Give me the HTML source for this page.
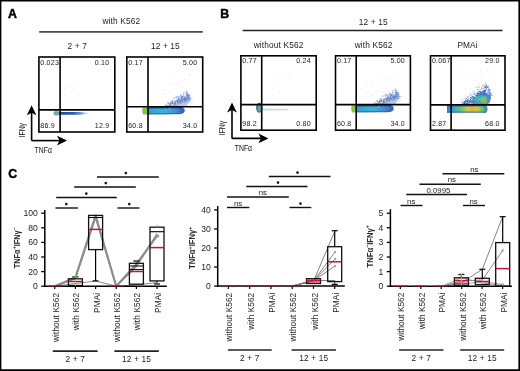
<!DOCTYPE html>
<html><head><meta charset="utf-8"><style>
html,body{margin:0;padding:0;background:#fff;}
svg{display:block;will-change:transform;font-family:"Liberation Sans", sans-serif;}
svg text{font-family:"Liberation Sans", sans-serif;}
</style></head><body>
<svg width="520" height="371" viewBox="0 0 520 371" >
<rect width="520" height="371" fill="#fff"/>
<path d="M0 0H520V371H0Z M1.4 1.4V369.3H518.4V1.4Z" fill="#000" fill-rule="evenodd"/>
<text x="8.1" y="18.0" font-size="12.3" text-anchor="start" font-weight="bold" fill="#000" stroke="#000" stroke-width="0.45">A</text>
<text x="220.3" y="18.1" font-size="12.3" text-anchor="start" font-weight="bold" fill="#000" stroke="#000" stroke-width="0.45">B</text>
<text x="8.2" y="177.5" font-size="12.3" text-anchor="start" font-weight="bold" fill="#000" stroke="#000" stroke-width="0.45">C</text>
<text x="121.3" y="23.6" font-size="8.3" text-anchor="middle" font-weight="normal" fill="#222" letter-spacing="0.15">with K562</text>
<line x1="39.2" y1="31.8" x2="202.8" y2="31.8" stroke="#4a4a4a" stroke-width="1.8" />
<text x="77.2" y="48.6" font-size="8.3" text-anchor="middle" font-weight="normal" fill="#222" letter-spacing="0.15">2 + 7</text>
<text x="165.4" y="48.6" font-size="8.3" text-anchor="middle" font-weight="normal" fill="#222" letter-spacing="0.15">12 + 15</text>
<text x="373.3" y="25.3" font-size="8.3" text-anchor="middle" font-weight="normal" fill="#222" letter-spacing="0.15">12 + 15</text>
<line x1="242.7" y1="30.6" x2="502.5" y2="30.6" stroke="#222" stroke-width="1.5" />
<text x="278.6" y="48.0" font-size="8.3" text-anchor="middle" font-weight="normal" fill="#222" letter-spacing="0.15">without K562</text>
<text x="373.6" y="48.0" font-size="8.3" text-anchor="middle" font-weight="normal" fill="#222" letter-spacing="0.15">with K562</text>
<text x="467.6" y="48.0" font-size="8.3" text-anchor="middle" font-weight="normal" fill="#222" letter-spacing="0.15">PMAi</text>
<defs>
<filter id="b1" x="-50%" y="-50%" width="200%" height="200%"><feGaussianBlur stdDeviation="0.45"/></filter>
<linearGradient id="gA1" x1="0" y1="0" x2="1" y2="0">
 <stop offset="0" stop-color="#1f4aa0"/><stop offset="0.45" stop-color="#2f5cb4"/><stop offset="0.7" stop-color="#6f8ed0" stop-opacity="0.85"/><stop offset="1" stop-color="#c0cce8" stop-opacity="0"/>
</linearGradient>
<linearGradient id="gCy" x1="0" y1="0" x2="1" y2="0">
 <stop offset="0" stop-color="#2aa6c8"/><stop offset="0.5" stop-color="#3ab4dc"/><stop offset="0.85" stop-color="#3c8fd0"/><stop offset="1" stop-color="#4a6cc0" stop-opacity="0.7"/>
</linearGradient>
<linearGradient id="gB3" x1="0" y1="0" x2="1" y2="0">
 <stop offset="0" stop-color="#3a78c8"/><stop offset="0.15" stop-color="#38a8d4"/><stop offset="0.35" stop-color="#6cc070"/><stop offset="0.5" stop-color="#c8cc48"/><stop offset="0.62" stop-color="#e8b040"/><stop offset="0.75" stop-color="#c8c848"/><stop offset="0.88" stop-color="#6cc060"/><stop offset="1" stop-color="#3a78c8"/>
</linearGradient>
<radialGradient id="gUp" cx="0.62" cy="0.62" r="0.55">
 <stop offset="0" stop-color="#70c460"/><stop offset="0.3" stop-color="#3eb0c4"/><stop offset="0.65" stop-color="#3c6cc4" stop-opacity="0.85"/><stop offset="1" stop-color="#6f8fd6" stop-opacity="0"/>
</radialGradient>
</defs>
<rect x="68.5" y="86.0" width="0.9" height="0.9" fill="#dfe1e8"/>
<rect x="74.1" y="81.8" width="0.9" height="0.9" fill="#dfe1e8"/>
<rect x="72.1" y="88.0" width="0.9" height="0.9" fill="#dfe1e8"/>
<rect x="64.0" y="94.6" width="0.9" height="0.9" fill="#dfe1e8"/>
<rect x="63.6" y="93.5" width="0.9" height="0.9" fill="#dfe1e8"/>
<rect x="64.2" y="87.0" width="0.9" height="0.9" fill="#dfe1e8"/>
<rect x="70.2" y="97.3" width="0.9" height="0.9" fill="#dfe1e8"/>
<rect x="65.1" y="89.0" width="0.9" height="0.9" fill="#dfe1e8"/>
<rect x="73.7" y="97.7" width="0.9" height="0.9" fill="#dfe1e8"/>
<g filter="url(#b1)">
<path d="M59 112.0 L80 112.0 L92 113.2 L80 114.7 L59 114.8 Z" fill="url(#gA1)"/>
<ellipse cx="56.4" cy="113.3" rx="2.9" ry="2.3" fill="#74aa9c"/>
</g>
<rect x="173.9" y="83.7" width="0.9" height="0.9" fill="#dcdee6"/>
<rect x="189.1" y="73.6" width="0.9" height="0.9" fill="#dcdee6"/>
<rect x="184.6" y="79.1" width="0.9" height="0.9" fill="#dcdee6"/>
<rect x="157.5" y="82.7" width="0.9" height="0.9" fill="#dcdee6"/>
<rect x="163.7" y="93.8" width="0.9" height="0.9" fill="#dcdee6"/>
<rect x="158.9" y="90.8" width="0.9" height="0.9" fill="#dcdee6"/>
<rect x="176.3" y="82.6" width="0.9" height="0.9" fill="#dcdee6"/>
<rect x="172.8" y="77.9" width="0.9" height="0.9" fill="#dcdee6"/>
<rect x="154.3" y="85.1" width="0.9" height="0.9" fill="#dcdee6"/>
<rect x="177.9" y="83.2" width="0.9" height="0.9" fill="#dcdee6"/>
<rect x="163.9" y="89.6" width="0.9" height="0.9" fill="#dcdee6"/>
<rect x="169.2" y="83.1" width="0.9" height="0.9" fill="#dcdee6"/>
<rect x="182.2" y="87.0" width="0.9" height="0.9" fill="#dcdee6"/>
<rect x="161.3" y="90.0" width="0.9" height="0.9" fill="#dcdee6"/>
<rect x="172.0" y="92.8" width="0.9" height="0.9" fill="#dcdee6"/>
<rect x="179.7" y="80.3" width="0.9" height="0.9" fill="#dcdee6"/>
<rect x="189.2" y="74.8" width="0.9" height="0.9" fill="#dcdee6"/>
<rect x="167.9" y="91.7" width="0.9" height="0.9" fill="#dcdee6"/>
<g transform="translate(0,0)">
<g filter="url(#b1)">
<path d="M148 107.3 L182 107.2 C184.5 107.6 185.2 110 184.5 112 C183 114 180 114.3 176 114.3 L148 114.4 Z" fill="#3468bc"/>
<path d="M148 108.6 L179 108.5 C181.5 109 181.5 111.5 180 113 L148 113.2 Z" fill="url(#gCy)"/>
<path d="M148 107.2 L182 107.1 L182 108.1 L148 108.3 Z" fill="#1d3580" opacity="0.8"/>
<path d="M142.6 107.5 L148 107.3 L148 114.5 L143 114.6 C142 112 142 109 142.6 107.5 Z" fill="#86c44a"/>
</g>
</g>
<g transform="translate(0,0)" opacity="0.75">
<path d="M166 107 C174 105.5 180 102 184 97.5 C186.5 94.5 189.5 93 190.5 95.5 C191 100 188 105 184 107.5 Z" fill="#5a7ecb" opacity="0.55" filter="url(#b1)"/>
<rect x="175.3" y="95.6" width="0.9" height="0.9" fill="#b0c0e6"/>
<rect x="177.0" y="97.2" width="0.9" height="0.9" fill="#7d98d6"/>
<rect x="170.8" y="100.9" width="0.9" height="0.9" fill="#7d98d6"/>
<rect x="186.4" y="99.3" width="0.9" height="0.9" fill="#3560bc"/>
<rect x="168.6" y="105.3" width="0.9" height="0.9" fill="#3560bc"/>
<rect x="169.2" y="108.6" width="0.9" height="0.9" fill="#b0c0e6"/>
<rect x="181.5" y="97.4" width="0.9" height="0.9" fill="#2d4fae"/>
<rect x="166.6" y="105.2" width="0.9" height="0.9" fill="#2d4fae"/>
<rect x="172.3" y="103.2" width="0.9" height="0.9" fill="#2d4fae"/>
<rect x="177.1" y="96.2" width="0.9" height="0.9" fill="#b0c0e6"/>
<rect x="178.1" y="98.0" width="0.9" height="0.9" fill="#3560bc"/>
<rect x="181.8" y="96.4" width="0.9" height="0.9" fill="#3560bc"/>
<rect x="191.8" y="101.8" width="0.9" height="0.9" fill="#b0c0e6"/>
<rect x="183.6" y="97.2" width="0.9" height="0.9" fill="#2d4fae"/>
<rect x="176.5" y="105.1" width="0.9" height="0.9" fill="#7d98d6"/>
<rect x="177.0" y="102.2" width="0.9" height="0.9" fill="#3560bc"/>
<rect x="188.2" y="95.9" width="0.9" height="0.9" fill="#2d4fae"/>
<rect x="172.9" y="104.7" width="0.9" height="0.9" fill="#4a74c6"/>
<rect x="188.4" y="94.7" width="0.9" height="0.9" fill="#2d4fae"/>
<rect x="181.4" y="99.1" width="0.9" height="0.9" fill="#2d4fae"/>
<rect x="170.2" y="102.6" width="0.9" height="0.9" fill="#4a74c6"/>
<rect x="185.6" y="99.2" width="0.9" height="0.9" fill="#3560bc"/>
<rect x="171.4" y="106.8" width="0.9" height="0.9" fill="#7d98d6"/>
<rect x="170.7" y="101.6" width="0.9" height="0.9" fill="#4a74c6"/>
<rect x="171.6" y="103.1" width="0.9" height="0.9" fill="#2d4fae"/>
<rect x="183.7" y="100.7" width="0.9" height="0.9" fill="#3560bc"/>
<rect x="174.5" y="102.4" width="0.9" height="0.9" fill="#2d4fae"/>
<rect x="185.9" y="95.1" width="0.9" height="0.9" fill="#3560bc"/>
<rect x="172.3" y="100.2" width="0.9" height="0.9" fill="#7d98d6"/>
<rect x="186.5" y="105.1" width="0.9" height="0.9" fill="#b0c0e6"/>
<rect x="174.0" y="102.8" width="0.9" height="0.9" fill="#2d4fae"/>
<rect x="175.6" y="101.5" width="0.9" height="0.9" fill="#2d4fae"/>
<rect x="168.6" y="103.5" width="0.9" height="0.9" fill="#3560bc"/>
<rect x="181.1" y="97.1" width="0.9" height="0.9" fill="#3560bc"/>
<rect x="186.4" y="91.7" width="0.9" height="0.9" fill="#4a74c6"/>
<rect x="187.3" y="97.4" width="0.9" height="0.9" fill="#2d4fae"/>
<rect x="187.2" y="97.3" width="0.9" height="0.9" fill="#2d4fae"/>
<rect x="170.1" y="102.9" width="0.9" height="0.9" fill="#2d4fae"/>
<rect x="173.3" y="106.6" width="0.9" height="0.9" fill="#b0c0e6"/>
<rect x="181.0" y="97.9" width="0.9" height="0.9" fill="#2d4fae"/>
<rect x="168.0" y="106.2" width="0.9" height="0.9" fill="#3560bc"/>
<rect x="184.8" y="97.8" width="0.9" height="0.9" fill="#2d4fae"/>
<rect x="181.5" y="98.6" width="0.9" height="0.9" fill="#2d4fae"/>
<rect x="184.8" y="99.7" width="0.9" height="0.9" fill="#3560bc"/>
<rect x="180.5" y="101.5" width="0.9" height="0.9" fill="#3560bc"/>
<rect x="174.6" y="103.3" width="0.9" height="0.9" fill="#3560bc"/>
<rect x="167.7" y="105.4" width="0.9" height="0.9" fill="#2d4fae"/>
<rect x="169.4" y="105.5" width="0.9" height="0.9" fill="#2d4fae"/>
<rect x="182.0" y="100.9" width="0.9" height="0.9" fill="#3560bc"/>
<rect x="188.9" y="100.9" width="0.9" height="0.9" fill="#7d98d6"/>
<rect x="182.3" y="96.9" width="0.9" height="0.9" fill="#3560bc"/>
<rect x="169.1" y="108.2" width="0.9" height="0.9" fill="#b0c0e6"/>
<rect x="183.5" y="98.7" width="0.9" height="0.9" fill="#2d4fae"/>
<rect x="180.2" y="94.4" width="0.9" height="0.9" fill="#7d98d6"/>
<rect x="175.6" y="102.6" width="0.9" height="0.9" fill="#2d4fae"/>
<rect x="178.3" y="99.1" width="0.9" height="0.9" fill="#2d4fae"/>
<rect x="182.0" y="96.3" width="0.9" height="0.9" fill="#3560bc"/>
<rect x="187.1" y="93.4" width="0.9" height="0.9" fill="#4a74c6"/>
<rect x="187.6" y="98.6" width="0.9" height="0.9" fill="#3560bc"/>
<rect x="185.4" y="99.8" width="0.9" height="0.9" fill="#3560bc"/>
<rect x="181.3" y="96.2" width="0.9" height="0.9" fill="#4a74c6"/>
<rect x="183.5" y="102.2" width="0.9" height="0.9" fill="#4a74c6"/>
<rect x="189.7" y="99.4" width="0.9" height="0.9" fill="#4a74c6"/>
<rect x="175.6" y="100.8" width="0.9" height="0.9" fill="#2d4fae"/>
<rect x="177.9" y="101.1" width="0.9" height="0.9" fill="#2d4fae"/>
<rect x="186.2" y="101.4" width="0.9" height="0.9" fill="#7d98d6"/>
<rect x="180.2" y="100.6" width="0.9" height="0.9" fill="#2d4fae"/>
<rect x="176.1" y="96.0" width="0.9" height="0.9" fill="#7d98d6"/>
<rect x="174.5" y="104.1" width="0.9" height="0.9" fill="#3560bc"/>
<rect x="183.5" y="98.8" width="0.9" height="0.9" fill="#2d4fae"/>
<rect x="185.7" y="94.5" width="0.9" height="0.9" fill="#3560bc"/>
<rect x="187.1" y="94.3" width="0.9" height="0.9" fill="#3560bc"/>
<rect x="171.6" y="100.2" width="0.9" height="0.9" fill="#7d98d6"/>
<rect x="187.9" y="98.5" width="0.9" height="0.9" fill="#3560bc"/>
<rect x="181.1" y="98.6" width="0.9" height="0.9" fill="#2d4fae"/>
<rect x="178.9" y="102.4" width="0.9" height="0.9" fill="#4a74c6"/>
<rect x="184.3" y="100.1" width="0.9" height="0.9" fill="#3560bc"/>
<rect x="171.2" y="102.2" width="0.9" height="0.9" fill="#3560bc"/>
<rect x="172.3" y="100.8" width="0.9" height="0.9" fill="#4a74c6"/>
<rect x="179.7" y="98.2" width="0.9" height="0.9" fill="#3560bc"/>
<rect x="188.2" y="94.4" width="0.9" height="0.9" fill="#2d4fae"/>
<rect x="167.4" y="105.6" width="0.9" height="0.9" fill="#2d4fae"/>
<rect x="182.2" y="95.9" width="0.9" height="0.9" fill="#3560bc"/>
<rect x="185.8" y="98.9" width="0.9" height="0.9" fill="#3560bc"/>
<rect x="180.4" y="104.7" width="0.9" height="0.9" fill="#b0c0e6"/>
<rect x="173.6" y="103.0" width="0.9" height="0.9" fill="#2d4fae"/>
<rect x="180.7" y="95.3" width="0.9" height="0.9" fill="#7d98d6"/>
<rect x="181.6" y="100.9" width="0.9" height="0.9" fill="#4a74c6"/>
<rect x="184.3" y="99.2" width="0.9" height="0.9" fill="#2d4fae"/>
<rect x="172.7" y="105.3" width="0.9" height="0.9" fill="#4a74c6"/>
<rect x="184.6" y="98.9" width="0.9" height="0.9" fill="#2d4fae"/>
<rect x="174.5" y="100.7" width="0.9" height="0.9" fill="#2d4fae"/>
<rect x="180.8" y="99.0" width="0.9" height="0.9" fill="#2d4fae"/>
<rect x="185.4" y="98.3" width="0.9" height="0.9" fill="#2d4fae"/>
<rect x="187.2" y="95.8" width="0.9" height="0.9" fill="#2d4fae"/>
<rect x="175.4" y="96.9" width="0.9" height="0.9" fill="#7d98d6"/>
<rect x="174.0" y="97.2" width="0.9" height="0.9" fill="#b0c0e6"/>
<rect x="186.3" y="100.3" width="0.9" height="0.9" fill="#4a74c6"/>
<rect x="184.1" y="99.7" width="0.9" height="0.9" fill="#3560bc"/>
<rect x="183.2" y="94.1" width="0.9" height="0.9" fill="#4a74c6"/>
<rect x="173.2" y="107.0" width="0.9" height="0.9" fill="#b0c0e6"/>
<rect x="185.7" y="90.1" width="0.9" height="0.9" fill="#7d98d6"/>
<rect x="175.9" y="105.1" width="0.9" height="0.9" fill="#7d98d6"/>
<rect x="177.2" y="103.4" width="0.9" height="0.9" fill="#4a74c6"/>
<rect x="179.5" y="99.8" width="0.9" height="0.9" fill="#2d4fae"/>
<rect x="167.1" y="105.6" width="0.9" height="0.9" fill="#2d4fae"/>
<rect x="186.4" y="98.5" width="0.9" height="0.9" fill="#2d4fae"/>
<rect x="185.8" y="98.4" width="0.9" height="0.9" fill="#2d4fae"/>
<rect x="177.7" y="99.0" width="0.9" height="0.9" fill="#2d4fae"/>
<rect x="184.1" y="101.2" width="0.9" height="0.9" fill="#4a74c6"/>
<rect x="189.2" y="97.9" width="0.9" height="0.9" fill="#3560bc"/>
<rect x="180.6" y="98.7" width="0.9" height="0.9" fill="#2d4fae"/>
<rect x="179.5" y="93.6" width="0.9" height="0.9" fill="#b0c0e6"/>
<rect x="180.8" y="98.5" width="0.9" height="0.9" fill="#2d4fae"/>
<rect x="186.5" y="98.5" width="0.9" height="0.9" fill="#3560bc"/>
<rect x="187.7" y="100.4" width="0.9" height="0.9" fill="#4a74c6"/>
<rect x="182.1" y="100.2" width="0.9" height="0.9" fill="#2d4fae"/>
<rect x="179.0" y="99.5" width="0.9" height="0.9" fill="#2d4fae"/>
<rect x="186.9" y="92.5" width="0.9" height="0.9" fill="#4a74c6"/>
<rect x="183.5" y="94.1" width="0.9" height="0.9" fill="#4a74c6"/>
<rect x="184.9" y="101.3" width="0.9" height="0.9" fill="#4a74c6"/>
<rect x="179.1" y="105.7" width="0.9" height="0.9" fill="#b0c0e6"/>
<rect x="173.7" y="101.3" width="0.9" height="0.9" fill="#3560bc"/>
<rect x="177.1" y="102.6" width="0.9" height="0.9" fill="#3560bc"/>
<rect x="178.9" y="99.6" width="0.9" height="0.9" fill="#2d4fae"/>
<rect x="182.0" y="100.1" width="0.9" height="0.9" fill="#3560bc"/>
<rect x="185.8" y="99.3" width="0.9" height="0.9" fill="#3560bc"/>
<rect x="172.1" y="102.2" width="0.9" height="0.9" fill="#2d4fae"/>
<rect x="175.5" y="100.7" width="0.9" height="0.9" fill="#2d4fae"/>
<rect x="185.7" y="100.2" width="0.9" height="0.9" fill="#3560bc"/>
<rect x="174.9" y="103.3" width="0.9" height="0.9" fill="#2d4fae"/>
<rect x="177.7" y="98.9" width="0.9" height="0.9" fill="#3560bc"/>
<rect x="180.7" y="100.6" width="0.9" height="0.9" fill="#2d4fae"/>
<rect x="180.2" y="96.6" width="0.9" height="0.9" fill="#3560bc"/>
<rect x="183.1" y="92.2" width="0.9" height="0.9" fill="#7d98d6"/>
<rect x="171.6" y="102.5" width="0.9" height="0.9" fill="#2d4fae"/>
<rect x="187.3" y="95.2" width="0.9" height="0.9" fill="#2d4fae"/>
<rect x="191.4" y="98.4" width="0.9" height="0.9" fill="#3560bc"/>
<rect x="188.0" y="98.0" width="0.9" height="0.9" fill="#3560bc"/>
<rect x="184.1" y="97.8" width="0.9" height="0.9" fill="#2d4fae"/>
<rect x="184.4" y="92.3" width="0.9" height="0.9" fill="#7d98d6"/>
<rect x="170.2" y="102.0" width="0.9" height="0.9" fill="#4a74c6"/>
<rect x="168.3" y="106.2" width="0.9" height="0.9" fill="#3560bc"/>
<rect x="188.0" y="97.8" width="0.9" height="0.9" fill="#3560bc"/>
<rect x="178.5" y="100.1" width="0.9" height="0.9" fill="#2d4fae"/>
<rect x="183.5" y="98.6" width="0.9" height="0.9" fill="#2d4fae"/>
<rect x="170.9" y="106.1" width="0.9" height="0.9" fill="#4a74c6"/>
<rect x="178.8" y="98.6" width="0.9" height="0.9" fill="#3560bc"/>
<rect x="173.8" y="104.2" width="0.9" height="0.9" fill="#3560bc"/>
<rect x="189.3" y="96.9" width="0.9" height="0.9" fill="#2d4fae"/>
<rect x="168.9" y="106.4" width="0.9" height="0.9" fill="#4a74c6"/>
<rect x="184.7" y="96.0" width="0.9" height="0.9" fill="#3560bc"/>
<rect x="178.6" y="96.9" width="0.9" height="0.9" fill="#4a74c6"/>
<rect x="164.9" y="104.9" width="0.9" height="0.9" fill="#3560bc"/>
<rect x="171.0" y="100.6" width="0.9" height="0.9" fill="#7d98d6"/>
<rect x="177.8" y="101.3" width="0.9" height="0.9" fill="#2d4fae"/>
<rect x="182.0" y="104.9" width="0.9" height="0.9" fill="#b0c0e6"/>
<rect x="183.0" y="95.6" width="0.9" height="0.9" fill="#3560bc"/>
<rect x="181.2" y="95.8" width="0.9" height="0.9" fill="#4a74c6"/>
<rect x="181.1" y="104.2" width="0.9" height="0.9" fill="#b0c0e6"/>
<rect x="174.3" y="105.1" width="0.9" height="0.9" fill="#7d98d6"/>
<rect x="184.6" y="98.6" width="0.9" height="0.9" fill="#2d4fae"/>
<rect x="187.8" y="99.9" width="0.9" height="0.9" fill="#4a74c6"/>
<rect x="183.9" y="97.8" width="0.9" height="0.9" fill="#2d4fae"/>
<rect x="185.1" y="100.2" width="0.9" height="0.9" fill="#3560bc"/>
<rect x="179.6" y="102.4" width="0.9" height="0.9" fill="#4a74c6"/>
<rect x="181.0" y="97.3" width="0.9" height="0.9" fill="#3560bc"/>
<rect x="186.7" y="94.5" width="0.9" height="0.9" fill="#3560bc"/>
<rect x="180.7" y="95.5" width="0.9" height="0.9" fill="#4a74c6"/>
<rect x="178.2" y="104.2" width="0.9" height="0.9" fill="#7d98d6"/>
<rect x="181.3" y="98.7" width="0.9" height="0.9" fill="#2d4fae"/>
<rect x="165.5" y="103.9" width="0.9" height="0.9" fill="#4a74c6"/>
<rect x="173.7" y="102.0" width="0.9" height="0.9" fill="#2d4fae"/>
<rect x="172.2" y="102.6" width="0.9" height="0.9" fill="#2d4fae"/>
<rect x="173.9" y="104.5" width="0.9" height="0.9" fill="#4a74c6"/>
<rect x="180.6" y="102.9" width="0.9" height="0.9" fill="#4a74c6"/>
<rect x="186.0" y="91.7" width="0.9" height="0.9" fill="#4a74c6"/>
<rect x="167.2" y="102.7" width="0.9" height="0.9" fill="#7d98d6"/>
<rect x="168.1" y="105.8" width="0.9" height="0.9" fill="#3560bc"/>
<rect x="180.0" y="101.6" width="0.9" height="0.9" fill="#3560bc"/>
<rect x="184.9" y="104.8" width="0.9" height="0.9" fill="#b0c0e6"/>
<rect x="176.0" y="97.8" width="0.9" height="0.9" fill="#7d98d6"/>
<rect x="177.1" y="100.6" width="0.9" height="0.9" fill="#2d4fae"/>
<rect x="181.3" y="98.6" width="0.9" height="0.9" fill="#2d4fae"/>
<rect x="175.4" y="103.5" width="0.9" height="0.9" fill="#3560bc"/>
<rect x="169.5" y="106.4" width="0.9" height="0.9" fill="#4a74c6"/>
<rect x="177.3" y="103.9" width="0.9" height="0.9" fill="#7d98d6"/>
<rect x="169.5" y="108.3" width="0.9" height="0.9" fill="#b0c0e6"/>
<rect x="169.0" y="106.0" width="0.9" height="0.9" fill="#3560bc"/>
<rect x="179.4" y="101.9" width="0.9" height="0.9" fill="#3560bc"/>
<rect x="180.8" y="103.3" width="0.9" height="0.9" fill="#7d98d6"/>
<rect x="180.3" y="104.5" width="0.9" height="0.9" fill="#b0c0e6"/>
<rect x="183.3" y="101.7" width="0.9" height="0.9" fill="#4a74c6"/>
<rect x="178.6" y="100.6" width="0.9" height="0.9" fill="#2d4fae"/>
<rect x="181.3" y="101.6" width="0.9" height="0.9" fill="#3560bc"/>
<rect x="181.9" y="96.4" width="0.9" height="0.9" fill="#3560bc"/>
<rect x="179.8" y="95.3" width="0.9" height="0.9" fill="#7d98d6"/>
<rect x="182.6" y="105.7" width="0.9" height="0.9" fill="#b0c0e6"/>
<rect x="184.4" y="97.9" width="0.9" height="0.9" fill="#2d4fae"/>
<rect x="186.3" y="97.3" width="0.9" height="0.9" fill="#2d4fae"/>
<rect x="177.1" y="100.9" width="0.9" height="0.9" fill="#2d4fae"/>
<rect x="178.6" y="96.4" width="0.9" height="0.9" fill="#4a74c6"/>
<rect x="185.3" y="98.4" width="0.9" height="0.9" fill="#2d4fae"/>
<rect x="190.4" y="101.4" width="0.9" height="0.9" fill="#b0c0e6"/>
<rect x="168.4" y="106.2" width="0.9" height="0.9" fill="#3560bc"/>
<rect x="177.0" y="100.0" width="0.9" height="0.9" fill="#2d4fae"/>
<rect x="180.7" y="100.5" width="0.9" height="0.9" fill="#2d4fae"/>
<rect x="180.8" y="94.7" width="0.9" height="0.9" fill="#7d98d6"/>
<rect x="175.9" y="99.8" width="0.9" height="0.9" fill="#3560bc"/>
<rect x="174.2" y="101.4" width="0.9" height="0.9" fill="#2d4fae"/>
<rect x="170.7" y="106.6" width="0.9" height="0.9" fill="#7d98d6"/>
<rect x="181.3" y="99.0" width="0.9" height="0.9" fill="#2d4fae"/>
<rect x="178.9" y="100.5" width="0.9" height="0.9" fill="#2d4fae"/>
<rect x="172.7" y="97.6" width="0.9" height="0.9" fill="#7d98d6"/>
<rect x="173.5" y="98.5" width="0.9" height="0.9" fill="#7d98d6"/>
<rect x="186.6" y="93.5" width="0.9" height="0.9" fill="#3560bc"/>
<rect x="169.5" y="104.8" width="0.9" height="0.9" fill="#2d4fae"/>
<rect x="168.1" y="103.0" width="0.9" height="0.9" fill="#4a74c6"/>
<rect x="183.7" y="96.8" width="0.9" height="0.9" fill="#3560bc"/>
<rect x="170.3" y="105.2" width="0.9" height="0.9" fill="#2d4fae"/>
<rect x="170.0" y="103.8" width="0.9" height="0.9" fill="#3560bc"/>
<rect x="183.5" y="97.8" width="0.9" height="0.9" fill="#2d4fae"/>
<rect x="175.2" y="101.1" width="0.9" height="0.9" fill="#2d4fae"/>
<rect x="168.9" y="103.6" width="0.9" height="0.9" fill="#2d4fae"/>
<rect x="189.8" y="102.6" width="0.9" height="0.9" fill="#b0c0e6"/>
<rect x="177.5" y="101.2" width="0.9" height="0.9" fill="#2d4fae"/>
<rect x="174.6" y="98.0" width="0.9" height="0.9" fill="#b0c0e6"/>
<rect x="187.8" y="96.4" width="0.9" height="0.9" fill="#2d4fae"/>
<rect x="176.3" y="99.9" width="0.9" height="0.9" fill="#3560bc"/>
<rect x="178.2" y="102.0" width="0.9" height="0.9" fill="#2d4fae"/>
<rect x="182.3" y="91.9" width="0.9" height="0.9" fill="#b0c0e6"/>
<rect x="182.6" y="101.3" width="0.9" height="0.9" fill="#3560bc"/>
<rect x="186.9" y="96.4" width="0.9" height="0.9" fill="#2d4fae"/>
<rect x="177.9" y="96.8" width="0.9" height="0.9" fill="#4a74c6"/>
<rect x="185.7" y="92.4" width="0.9" height="0.9" fill="#4a74c6"/>
<rect x="167.1" y="102.4" width="0.9" height="0.9" fill="#7d98d6"/>
<rect x="170.8" y="106.6" width="0.9" height="0.9" fill="#7d98d6"/>
<rect x="189.4" y="100.1" width="0.9" height="0.9" fill="#4a74c6"/>
<rect x="169.7" y="103.7" width="0.9" height="0.9" fill="#2d4fae"/>
<rect x="175.1" y="103.2" width="0.9" height="0.9" fill="#2d4fae"/>
<rect x="179.0" y="100.0" width="0.9" height="0.9" fill="#2d4fae"/>
<rect x="176.8" y="104.6" width="0.9" height="0.9" fill="#7d98d6"/>
<rect x="177.1" y="96.3" width="0.9" height="0.9" fill="#7d98d6"/>
<rect x="184.2" y="100.5" width="0.9" height="0.9" fill="#4a74c6"/>
<rect x="183.1" y="94.1" width="0.9" height="0.9" fill="#4a74c6"/>
<rect x="185.3" y="100.3" width="0.9" height="0.9" fill="#4a74c6"/>
<rect x="186.3" y="93.4" width="0.9" height="0.9" fill="#3560bc"/>
<rect x="183.1" y="99.0" width="0.9" height="0.9" fill="#2d4fae"/>
<rect x="179.6" y="103.0" width="0.9" height="0.9" fill="#4a74c6"/>
<rect x="188.5" y="94.2" width="0.9" height="0.9" fill="#2d4fae"/>
<rect x="172.2" y="101.7" width="0.9" height="0.9" fill="#3560bc"/>
<rect x="189.9" y="98.3" width="0.9" height="0.9" fill="#3560bc"/>
<rect x="168.2" y="102.5" width="0.9" height="0.9" fill="#4a74c6"/>
<rect x="173.0" y="105.1" width="0.9" height="0.9" fill="#4a74c6"/>
<rect x="181.1" y="99.8" width="0.9" height="0.9" fill="#2d4fae"/>
<rect x="170.6" y="104.7" width="0.9" height="0.9" fill="#2d4fae"/>
<rect x="171.9" y="102.2" width="0.9" height="0.9" fill="#2d4fae"/>
<rect x="173.8" y="103.4" width="0.9" height="0.9" fill="#2d4fae"/>
<rect x="171.0" y="103.5" width="0.9" height="0.9" fill="#2d4fae"/>
<rect x="179.9" y="100.7" width="0.9" height="0.9" fill="#3560bc"/>
</g>
<rect x="370.9" y="93.5" width="0.9" height="0.9" fill="#dcdee6"/>
<rect x="395.7" y="77.5" width="0.9" height="0.9" fill="#dcdee6"/>
<rect x="381.8" y="92.0" width="0.9" height="0.9" fill="#dcdee6"/>
<rect x="379.3" y="79.4" width="0.9" height="0.9" fill="#dcdee6"/>
<rect x="362.9" y="96.6" width="0.9" height="0.9" fill="#dcdee6"/>
<rect x="391.5" y="79.3" width="0.9" height="0.9" fill="#dcdee6"/>
<rect x="381.0" y="84.3" width="0.9" height="0.9" fill="#dcdee6"/>
<rect x="371.4" y="95.2" width="0.9" height="0.9" fill="#dcdee6"/>
<rect x="386.0" y="78.0" width="0.9" height="0.9" fill="#dcdee6"/>
<rect x="361.4" y="88.4" width="0.9" height="0.9" fill="#dcdee6"/>
<rect x="375.1" y="90.8" width="0.9" height="0.9" fill="#dcdee6"/>
<rect x="388.1" y="84.1" width="0.9" height="0.9" fill="#dcdee6"/>
<rect x="367.0" y="81.3" width="0.9" height="0.9" fill="#dcdee6"/>
<rect x="373.2" y="81.6" width="0.9" height="0.9" fill="#dcdee6"/>
<rect x="394.0" y="81.0" width="0.9" height="0.9" fill="#dcdee6"/>
<rect x="385.2" y="91.8" width="0.9" height="0.9" fill="#dcdee6"/>
<rect x="371.1" y="87.1" width="0.9" height="0.9" fill="#dcdee6"/>
<rect x="366.7" y="92.4" width="0.9" height="0.9" fill="#dcdee6"/>
<g transform="translate(209.0,-2.0)">
<g filter="url(#b1)">
<path d="M148 107.3 L182 107.2 C184.5 107.6 185.2 110 184.5 112 C183 114 180 114.3 176 114.3 L148 114.4 Z" fill="#3468bc"/>
<path d="M148 108.6 L179 108.5 C181.5 109 181.5 111.5 180 113 L148 113.2 Z" fill="url(#gCy)"/>
<path d="M148 107.2 L182 107.1 L182 108.1 L148 108.3 Z" fill="#1d3580" opacity="0.8"/>
<path d="M142.6 107.5 L148 107.3 L148 114.5 L143 114.6 C142 112 142 109 142.6 107.5 Z" fill="#86c44a"/>
</g>
</g>
<g transform="translate(209.0,-2.0)" opacity="0.75">
<path d="M166 107 C174 105.5 180 102 184 97.5 C186.5 94.5 189.5 93 190.5 95.5 C191 100 188 105 184 107.5 Z" fill="#5a7ecb" opacity="0.55" filter="url(#b1)"/>
<rect x="175.3" y="95.6" width="0.9" height="0.9" fill="#b0c0e6"/>
<rect x="177.0" y="97.2" width="0.9" height="0.9" fill="#7d98d6"/>
<rect x="170.8" y="100.9" width="0.9" height="0.9" fill="#7d98d6"/>
<rect x="186.4" y="99.3" width="0.9" height="0.9" fill="#3560bc"/>
<rect x="168.6" y="105.3" width="0.9" height="0.9" fill="#3560bc"/>
<rect x="169.2" y="108.6" width="0.9" height="0.9" fill="#b0c0e6"/>
<rect x="181.5" y="97.4" width="0.9" height="0.9" fill="#2d4fae"/>
<rect x="166.6" y="105.2" width="0.9" height="0.9" fill="#2d4fae"/>
<rect x="172.3" y="103.2" width="0.9" height="0.9" fill="#2d4fae"/>
<rect x="177.1" y="96.2" width="0.9" height="0.9" fill="#b0c0e6"/>
<rect x="178.1" y="98.0" width="0.9" height="0.9" fill="#3560bc"/>
<rect x="181.8" y="96.4" width="0.9" height="0.9" fill="#3560bc"/>
<rect x="191.8" y="101.8" width="0.9" height="0.9" fill="#b0c0e6"/>
<rect x="183.6" y="97.2" width="0.9" height="0.9" fill="#2d4fae"/>
<rect x="176.5" y="105.1" width="0.9" height="0.9" fill="#7d98d6"/>
<rect x="177.0" y="102.2" width="0.9" height="0.9" fill="#3560bc"/>
<rect x="188.2" y="95.9" width="0.9" height="0.9" fill="#2d4fae"/>
<rect x="172.9" y="104.7" width="0.9" height="0.9" fill="#4a74c6"/>
<rect x="188.4" y="94.7" width="0.9" height="0.9" fill="#2d4fae"/>
<rect x="181.4" y="99.1" width="0.9" height="0.9" fill="#2d4fae"/>
<rect x="170.2" y="102.6" width="0.9" height="0.9" fill="#4a74c6"/>
<rect x="185.6" y="99.2" width="0.9" height="0.9" fill="#3560bc"/>
<rect x="171.4" y="106.8" width="0.9" height="0.9" fill="#7d98d6"/>
<rect x="170.7" y="101.6" width="0.9" height="0.9" fill="#4a74c6"/>
<rect x="171.6" y="103.1" width="0.9" height="0.9" fill="#2d4fae"/>
<rect x="183.7" y="100.7" width="0.9" height="0.9" fill="#3560bc"/>
<rect x="174.5" y="102.4" width="0.9" height="0.9" fill="#2d4fae"/>
<rect x="185.9" y="95.1" width="0.9" height="0.9" fill="#3560bc"/>
<rect x="172.3" y="100.2" width="0.9" height="0.9" fill="#7d98d6"/>
<rect x="186.5" y="105.1" width="0.9" height="0.9" fill="#b0c0e6"/>
<rect x="174.0" y="102.8" width="0.9" height="0.9" fill="#2d4fae"/>
<rect x="175.6" y="101.5" width="0.9" height="0.9" fill="#2d4fae"/>
<rect x="168.6" y="103.5" width="0.9" height="0.9" fill="#3560bc"/>
<rect x="181.1" y="97.1" width="0.9" height="0.9" fill="#3560bc"/>
<rect x="186.4" y="91.7" width="0.9" height="0.9" fill="#4a74c6"/>
<rect x="187.3" y="97.4" width="0.9" height="0.9" fill="#2d4fae"/>
<rect x="187.2" y="97.3" width="0.9" height="0.9" fill="#2d4fae"/>
<rect x="170.1" y="102.9" width="0.9" height="0.9" fill="#2d4fae"/>
<rect x="173.3" y="106.6" width="0.9" height="0.9" fill="#b0c0e6"/>
<rect x="181.0" y="97.9" width="0.9" height="0.9" fill="#2d4fae"/>
<rect x="168.0" y="106.2" width="0.9" height="0.9" fill="#3560bc"/>
<rect x="184.8" y="97.8" width="0.9" height="0.9" fill="#2d4fae"/>
<rect x="181.5" y="98.6" width="0.9" height="0.9" fill="#2d4fae"/>
<rect x="184.8" y="99.7" width="0.9" height="0.9" fill="#3560bc"/>
<rect x="180.5" y="101.5" width="0.9" height="0.9" fill="#3560bc"/>
<rect x="174.6" y="103.3" width="0.9" height="0.9" fill="#3560bc"/>
<rect x="167.7" y="105.4" width="0.9" height="0.9" fill="#2d4fae"/>
<rect x="169.4" y="105.5" width="0.9" height="0.9" fill="#2d4fae"/>
<rect x="182.0" y="100.9" width="0.9" height="0.9" fill="#3560bc"/>
<rect x="188.9" y="100.9" width="0.9" height="0.9" fill="#7d98d6"/>
<rect x="182.3" y="96.9" width="0.9" height="0.9" fill="#3560bc"/>
<rect x="169.1" y="108.2" width="0.9" height="0.9" fill="#b0c0e6"/>
<rect x="183.5" y="98.7" width="0.9" height="0.9" fill="#2d4fae"/>
<rect x="180.2" y="94.4" width="0.9" height="0.9" fill="#7d98d6"/>
<rect x="175.6" y="102.6" width="0.9" height="0.9" fill="#2d4fae"/>
<rect x="178.3" y="99.1" width="0.9" height="0.9" fill="#2d4fae"/>
<rect x="182.0" y="96.3" width="0.9" height="0.9" fill="#3560bc"/>
<rect x="187.1" y="93.4" width="0.9" height="0.9" fill="#4a74c6"/>
<rect x="187.6" y="98.6" width="0.9" height="0.9" fill="#3560bc"/>
<rect x="185.4" y="99.8" width="0.9" height="0.9" fill="#3560bc"/>
<rect x="181.3" y="96.2" width="0.9" height="0.9" fill="#4a74c6"/>
<rect x="183.5" y="102.2" width="0.9" height="0.9" fill="#4a74c6"/>
<rect x="189.7" y="99.4" width="0.9" height="0.9" fill="#4a74c6"/>
<rect x="175.6" y="100.8" width="0.9" height="0.9" fill="#2d4fae"/>
<rect x="177.9" y="101.1" width="0.9" height="0.9" fill="#2d4fae"/>
<rect x="186.2" y="101.4" width="0.9" height="0.9" fill="#7d98d6"/>
<rect x="180.2" y="100.6" width="0.9" height="0.9" fill="#2d4fae"/>
<rect x="176.1" y="96.0" width="0.9" height="0.9" fill="#7d98d6"/>
<rect x="174.5" y="104.1" width="0.9" height="0.9" fill="#3560bc"/>
<rect x="183.5" y="98.8" width="0.9" height="0.9" fill="#2d4fae"/>
<rect x="185.7" y="94.5" width="0.9" height="0.9" fill="#3560bc"/>
<rect x="187.1" y="94.3" width="0.9" height="0.9" fill="#3560bc"/>
<rect x="171.6" y="100.2" width="0.9" height="0.9" fill="#7d98d6"/>
<rect x="187.9" y="98.5" width="0.9" height="0.9" fill="#3560bc"/>
<rect x="181.1" y="98.6" width="0.9" height="0.9" fill="#2d4fae"/>
<rect x="178.9" y="102.4" width="0.9" height="0.9" fill="#4a74c6"/>
<rect x="184.3" y="100.1" width="0.9" height="0.9" fill="#3560bc"/>
<rect x="171.2" y="102.2" width="0.9" height="0.9" fill="#3560bc"/>
<rect x="172.3" y="100.8" width="0.9" height="0.9" fill="#4a74c6"/>
<rect x="179.7" y="98.2" width="0.9" height="0.9" fill="#3560bc"/>
<rect x="188.2" y="94.4" width="0.9" height="0.9" fill="#2d4fae"/>
<rect x="167.4" y="105.6" width="0.9" height="0.9" fill="#2d4fae"/>
<rect x="182.2" y="95.9" width="0.9" height="0.9" fill="#3560bc"/>
<rect x="185.8" y="98.9" width="0.9" height="0.9" fill="#3560bc"/>
<rect x="180.4" y="104.7" width="0.9" height="0.9" fill="#b0c0e6"/>
<rect x="173.6" y="103.0" width="0.9" height="0.9" fill="#2d4fae"/>
<rect x="180.7" y="95.3" width="0.9" height="0.9" fill="#7d98d6"/>
<rect x="181.6" y="100.9" width="0.9" height="0.9" fill="#4a74c6"/>
<rect x="184.3" y="99.2" width="0.9" height="0.9" fill="#2d4fae"/>
<rect x="172.7" y="105.3" width="0.9" height="0.9" fill="#4a74c6"/>
<rect x="184.6" y="98.9" width="0.9" height="0.9" fill="#2d4fae"/>
<rect x="174.5" y="100.7" width="0.9" height="0.9" fill="#2d4fae"/>
<rect x="180.8" y="99.0" width="0.9" height="0.9" fill="#2d4fae"/>
<rect x="185.4" y="98.3" width="0.9" height="0.9" fill="#2d4fae"/>
<rect x="187.2" y="95.8" width="0.9" height="0.9" fill="#2d4fae"/>
<rect x="175.4" y="96.9" width="0.9" height="0.9" fill="#7d98d6"/>
<rect x="174.0" y="97.2" width="0.9" height="0.9" fill="#b0c0e6"/>
<rect x="186.3" y="100.3" width="0.9" height="0.9" fill="#4a74c6"/>
<rect x="184.1" y="99.7" width="0.9" height="0.9" fill="#3560bc"/>
<rect x="183.2" y="94.1" width="0.9" height="0.9" fill="#4a74c6"/>
<rect x="173.2" y="107.0" width="0.9" height="0.9" fill="#b0c0e6"/>
<rect x="185.7" y="90.1" width="0.9" height="0.9" fill="#7d98d6"/>
<rect x="175.9" y="105.1" width="0.9" height="0.9" fill="#7d98d6"/>
<rect x="177.2" y="103.4" width="0.9" height="0.9" fill="#4a74c6"/>
<rect x="179.5" y="99.8" width="0.9" height="0.9" fill="#2d4fae"/>
<rect x="167.1" y="105.6" width="0.9" height="0.9" fill="#2d4fae"/>
<rect x="186.4" y="98.5" width="0.9" height="0.9" fill="#2d4fae"/>
<rect x="185.8" y="98.4" width="0.9" height="0.9" fill="#2d4fae"/>
<rect x="177.7" y="99.0" width="0.9" height="0.9" fill="#2d4fae"/>
<rect x="184.1" y="101.2" width="0.9" height="0.9" fill="#4a74c6"/>
<rect x="189.2" y="97.9" width="0.9" height="0.9" fill="#3560bc"/>
<rect x="180.6" y="98.7" width="0.9" height="0.9" fill="#2d4fae"/>
<rect x="179.5" y="93.6" width="0.9" height="0.9" fill="#b0c0e6"/>
<rect x="180.8" y="98.5" width="0.9" height="0.9" fill="#2d4fae"/>
<rect x="186.5" y="98.5" width="0.9" height="0.9" fill="#3560bc"/>
<rect x="187.7" y="100.4" width="0.9" height="0.9" fill="#4a74c6"/>
<rect x="182.1" y="100.2" width="0.9" height="0.9" fill="#2d4fae"/>
<rect x="179.0" y="99.5" width="0.9" height="0.9" fill="#2d4fae"/>
<rect x="186.9" y="92.5" width="0.9" height="0.9" fill="#4a74c6"/>
<rect x="183.5" y="94.1" width="0.9" height="0.9" fill="#4a74c6"/>
<rect x="184.9" y="101.3" width="0.9" height="0.9" fill="#4a74c6"/>
<rect x="179.1" y="105.7" width="0.9" height="0.9" fill="#b0c0e6"/>
<rect x="173.7" y="101.3" width="0.9" height="0.9" fill="#3560bc"/>
<rect x="177.1" y="102.6" width="0.9" height="0.9" fill="#3560bc"/>
<rect x="178.9" y="99.6" width="0.9" height="0.9" fill="#2d4fae"/>
<rect x="182.0" y="100.1" width="0.9" height="0.9" fill="#3560bc"/>
<rect x="185.8" y="99.3" width="0.9" height="0.9" fill="#3560bc"/>
<rect x="172.1" y="102.2" width="0.9" height="0.9" fill="#2d4fae"/>
<rect x="175.5" y="100.7" width="0.9" height="0.9" fill="#2d4fae"/>
<rect x="185.7" y="100.2" width="0.9" height="0.9" fill="#3560bc"/>
<rect x="174.9" y="103.3" width="0.9" height="0.9" fill="#2d4fae"/>
<rect x="177.7" y="98.9" width="0.9" height="0.9" fill="#3560bc"/>
<rect x="180.7" y="100.6" width="0.9" height="0.9" fill="#2d4fae"/>
<rect x="180.2" y="96.6" width="0.9" height="0.9" fill="#3560bc"/>
<rect x="183.1" y="92.2" width="0.9" height="0.9" fill="#7d98d6"/>
<rect x="171.6" y="102.5" width="0.9" height="0.9" fill="#2d4fae"/>
<rect x="187.3" y="95.2" width="0.9" height="0.9" fill="#2d4fae"/>
<rect x="191.4" y="98.4" width="0.9" height="0.9" fill="#3560bc"/>
<rect x="188.0" y="98.0" width="0.9" height="0.9" fill="#3560bc"/>
<rect x="184.1" y="97.8" width="0.9" height="0.9" fill="#2d4fae"/>
<rect x="184.4" y="92.3" width="0.9" height="0.9" fill="#7d98d6"/>
<rect x="170.2" y="102.0" width="0.9" height="0.9" fill="#4a74c6"/>
<rect x="168.3" y="106.2" width="0.9" height="0.9" fill="#3560bc"/>
<rect x="188.0" y="97.8" width="0.9" height="0.9" fill="#3560bc"/>
<rect x="178.5" y="100.1" width="0.9" height="0.9" fill="#2d4fae"/>
<rect x="183.5" y="98.6" width="0.9" height="0.9" fill="#2d4fae"/>
<rect x="170.9" y="106.1" width="0.9" height="0.9" fill="#4a74c6"/>
<rect x="178.8" y="98.6" width="0.9" height="0.9" fill="#3560bc"/>
<rect x="173.8" y="104.2" width="0.9" height="0.9" fill="#3560bc"/>
<rect x="189.3" y="96.9" width="0.9" height="0.9" fill="#2d4fae"/>
<rect x="168.9" y="106.4" width="0.9" height="0.9" fill="#4a74c6"/>
<rect x="184.7" y="96.0" width="0.9" height="0.9" fill="#3560bc"/>
<rect x="178.6" y="96.9" width="0.9" height="0.9" fill="#4a74c6"/>
<rect x="164.9" y="104.9" width="0.9" height="0.9" fill="#3560bc"/>
<rect x="171.0" y="100.6" width="0.9" height="0.9" fill="#7d98d6"/>
<rect x="177.8" y="101.3" width="0.9" height="0.9" fill="#2d4fae"/>
<rect x="182.0" y="104.9" width="0.9" height="0.9" fill="#b0c0e6"/>
<rect x="183.0" y="95.6" width="0.9" height="0.9" fill="#3560bc"/>
<rect x="181.2" y="95.8" width="0.9" height="0.9" fill="#4a74c6"/>
<rect x="181.1" y="104.2" width="0.9" height="0.9" fill="#b0c0e6"/>
<rect x="174.3" y="105.1" width="0.9" height="0.9" fill="#7d98d6"/>
<rect x="184.6" y="98.6" width="0.9" height="0.9" fill="#2d4fae"/>
<rect x="187.8" y="99.9" width="0.9" height="0.9" fill="#4a74c6"/>
<rect x="183.9" y="97.8" width="0.9" height="0.9" fill="#2d4fae"/>
<rect x="185.1" y="100.2" width="0.9" height="0.9" fill="#3560bc"/>
<rect x="179.6" y="102.4" width="0.9" height="0.9" fill="#4a74c6"/>
<rect x="181.0" y="97.3" width="0.9" height="0.9" fill="#3560bc"/>
<rect x="186.7" y="94.5" width="0.9" height="0.9" fill="#3560bc"/>
<rect x="180.7" y="95.5" width="0.9" height="0.9" fill="#4a74c6"/>
<rect x="178.2" y="104.2" width="0.9" height="0.9" fill="#7d98d6"/>
<rect x="181.3" y="98.7" width="0.9" height="0.9" fill="#2d4fae"/>
<rect x="165.5" y="103.9" width="0.9" height="0.9" fill="#4a74c6"/>
<rect x="173.7" y="102.0" width="0.9" height="0.9" fill="#2d4fae"/>
<rect x="172.2" y="102.6" width="0.9" height="0.9" fill="#2d4fae"/>
<rect x="173.9" y="104.5" width="0.9" height="0.9" fill="#4a74c6"/>
<rect x="180.6" y="102.9" width="0.9" height="0.9" fill="#4a74c6"/>
<rect x="186.0" y="91.7" width="0.9" height="0.9" fill="#4a74c6"/>
<rect x="167.2" y="102.7" width="0.9" height="0.9" fill="#7d98d6"/>
<rect x="168.1" y="105.8" width="0.9" height="0.9" fill="#3560bc"/>
<rect x="180.0" y="101.6" width="0.9" height="0.9" fill="#3560bc"/>
<rect x="184.9" y="104.8" width="0.9" height="0.9" fill="#b0c0e6"/>
<rect x="176.0" y="97.8" width="0.9" height="0.9" fill="#7d98d6"/>
<rect x="177.1" y="100.6" width="0.9" height="0.9" fill="#2d4fae"/>
<rect x="181.3" y="98.6" width="0.9" height="0.9" fill="#2d4fae"/>
<rect x="175.4" y="103.5" width="0.9" height="0.9" fill="#3560bc"/>
<rect x="169.5" y="106.4" width="0.9" height="0.9" fill="#4a74c6"/>
<rect x="177.3" y="103.9" width="0.9" height="0.9" fill="#7d98d6"/>
<rect x="169.5" y="108.3" width="0.9" height="0.9" fill="#b0c0e6"/>
<rect x="169.0" y="106.0" width="0.9" height="0.9" fill="#3560bc"/>
<rect x="179.4" y="101.9" width="0.9" height="0.9" fill="#3560bc"/>
<rect x="180.8" y="103.3" width="0.9" height="0.9" fill="#7d98d6"/>
<rect x="180.3" y="104.5" width="0.9" height="0.9" fill="#b0c0e6"/>
<rect x="183.3" y="101.7" width="0.9" height="0.9" fill="#4a74c6"/>
<rect x="178.6" y="100.6" width="0.9" height="0.9" fill="#2d4fae"/>
<rect x="181.3" y="101.6" width="0.9" height="0.9" fill="#3560bc"/>
<rect x="181.9" y="96.4" width="0.9" height="0.9" fill="#3560bc"/>
<rect x="179.8" y="95.3" width="0.9" height="0.9" fill="#7d98d6"/>
<rect x="182.6" y="105.7" width="0.9" height="0.9" fill="#b0c0e6"/>
<rect x="184.4" y="97.9" width="0.9" height="0.9" fill="#2d4fae"/>
<rect x="186.3" y="97.3" width="0.9" height="0.9" fill="#2d4fae"/>
<rect x="177.1" y="100.9" width="0.9" height="0.9" fill="#2d4fae"/>
<rect x="178.6" y="96.4" width="0.9" height="0.9" fill="#4a74c6"/>
<rect x="185.3" y="98.4" width="0.9" height="0.9" fill="#2d4fae"/>
<rect x="190.4" y="101.4" width="0.9" height="0.9" fill="#b0c0e6"/>
<rect x="168.4" y="106.2" width="0.9" height="0.9" fill="#3560bc"/>
<rect x="177.0" y="100.0" width="0.9" height="0.9" fill="#2d4fae"/>
<rect x="180.7" y="100.5" width="0.9" height="0.9" fill="#2d4fae"/>
<rect x="180.8" y="94.7" width="0.9" height="0.9" fill="#7d98d6"/>
<rect x="175.9" y="99.8" width="0.9" height="0.9" fill="#3560bc"/>
<rect x="174.2" y="101.4" width="0.9" height="0.9" fill="#2d4fae"/>
<rect x="170.7" y="106.6" width="0.9" height="0.9" fill="#7d98d6"/>
<rect x="181.3" y="99.0" width="0.9" height="0.9" fill="#2d4fae"/>
<rect x="178.9" y="100.5" width="0.9" height="0.9" fill="#2d4fae"/>
<rect x="172.7" y="97.6" width="0.9" height="0.9" fill="#7d98d6"/>
<rect x="173.5" y="98.5" width="0.9" height="0.9" fill="#7d98d6"/>
<rect x="186.6" y="93.5" width="0.9" height="0.9" fill="#3560bc"/>
<rect x="169.5" y="104.8" width="0.9" height="0.9" fill="#2d4fae"/>
<rect x="168.1" y="103.0" width="0.9" height="0.9" fill="#4a74c6"/>
<rect x="183.7" y="96.8" width="0.9" height="0.9" fill="#3560bc"/>
<rect x="170.3" y="105.2" width="0.9" height="0.9" fill="#2d4fae"/>
<rect x="170.0" y="103.8" width="0.9" height="0.9" fill="#3560bc"/>
<rect x="183.5" y="97.8" width="0.9" height="0.9" fill="#2d4fae"/>
<rect x="175.2" y="101.1" width="0.9" height="0.9" fill="#2d4fae"/>
<rect x="168.9" y="103.6" width="0.9" height="0.9" fill="#2d4fae"/>
<rect x="189.8" y="102.6" width="0.9" height="0.9" fill="#b0c0e6"/>
<rect x="177.5" y="101.2" width="0.9" height="0.9" fill="#2d4fae"/>
<rect x="174.6" y="98.0" width="0.9" height="0.9" fill="#b0c0e6"/>
<rect x="187.8" y="96.4" width="0.9" height="0.9" fill="#2d4fae"/>
<rect x="176.3" y="99.9" width="0.9" height="0.9" fill="#3560bc"/>
<rect x="178.2" y="102.0" width="0.9" height="0.9" fill="#2d4fae"/>
<rect x="182.3" y="91.9" width="0.9" height="0.9" fill="#b0c0e6"/>
<rect x="182.6" y="101.3" width="0.9" height="0.9" fill="#3560bc"/>
<rect x="186.9" y="96.4" width="0.9" height="0.9" fill="#2d4fae"/>
<rect x="177.9" y="96.8" width="0.9" height="0.9" fill="#4a74c6"/>
<rect x="185.7" y="92.4" width="0.9" height="0.9" fill="#4a74c6"/>
<rect x="167.1" y="102.4" width="0.9" height="0.9" fill="#7d98d6"/>
<rect x="170.8" y="106.6" width="0.9" height="0.9" fill="#7d98d6"/>
<rect x="189.4" y="100.1" width="0.9" height="0.9" fill="#4a74c6"/>
<rect x="169.7" y="103.7" width="0.9" height="0.9" fill="#2d4fae"/>
<rect x="175.1" y="103.2" width="0.9" height="0.9" fill="#2d4fae"/>
<rect x="179.0" y="100.0" width="0.9" height="0.9" fill="#2d4fae"/>
<rect x="176.8" y="104.6" width="0.9" height="0.9" fill="#7d98d6"/>
<rect x="177.1" y="96.3" width="0.9" height="0.9" fill="#7d98d6"/>
<rect x="184.2" y="100.5" width="0.9" height="0.9" fill="#4a74c6"/>
<rect x="183.1" y="94.1" width="0.9" height="0.9" fill="#4a74c6"/>
<rect x="185.3" y="100.3" width="0.9" height="0.9" fill="#4a74c6"/>
<rect x="186.3" y="93.4" width="0.9" height="0.9" fill="#3560bc"/>
<rect x="183.1" y="99.0" width="0.9" height="0.9" fill="#2d4fae"/>
<rect x="179.6" y="103.0" width="0.9" height="0.9" fill="#4a74c6"/>
<rect x="188.5" y="94.2" width="0.9" height="0.9" fill="#2d4fae"/>
<rect x="172.2" y="101.7" width="0.9" height="0.9" fill="#3560bc"/>
<rect x="189.9" y="98.3" width="0.9" height="0.9" fill="#3560bc"/>
<rect x="168.2" y="102.5" width="0.9" height="0.9" fill="#4a74c6"/>
<rect x="173.0" y="105.1" width="0.9" height="0.9" fill="#4a74c6"/>
<rect x="181.1" y="99.8" width="0.9" height="0.9" fill="#2d4fae"/>
<rect x="170.6" y="104.7" width="0.9" height="0.9" fill="#2d4fae"/>
<rect x="171.9" y="102.2" width="0.9" height="0.9" fill="#2d4fae"/>
<rect x="173.8" y="103.4" width="0.9" height="0.9" fill="#2d4fae"/>
<rect x="171.0" y="103.5" width="0.9" height="0.9" fill="#2d4fae"/>
<rect x="179.9" y="100.7" width="0.9" height="0.9" fill="#3560bc"/>
</g>
<rect x="272.3" y="94.4" width="0.9" height="0.9" fill="#dfe0e8"/>
<rect x="287.9" y="74.6" width="0.9" height="0.9" fill="#dfe0e8"/>
<rect x="279.1" y="92.5" width="0.9" height="0.9" fill="#dfe0e8"/>
<rect x="277.6" y="77.1" width="0.9" height="0.9" fill="#dfe0e8"/>
<rect x="267.2" y="98.2" width="0.9" height="0.9" fill="#dfe0e8"/>
<rect x="285.2" y="76.9" width="0.9" height="0.9" fill="#dfe0e8"/>
<rect x="278.7" y="83.0" width="0.9" height="0.9" fill="#dfe0e8"/>
<rect x="272.6" y="96.5" width="0.9" height="0.9" fill="#dfe0e8"/>
<rect x="281.8" y="75.3" width="0.9" height="0.9" fill="#dfe0e8"/>
<g filter="url(#b1)">
<path d="M262 108.5 L288 108.8 L288 110.3 L262 110.8 Z" fill="#c8cfe8" opacity="0.8"/>
<ellipse cx="259.2" cy="107.8" rx="3" ry="5" fill="#2e4f8a"/>
<ellipse cx="259.4" cy="108.2" rx="2" ry="3.6" fill="#62aa9c"/>
</g>
<rect x="480.7" y="90.9" width="0.9" height="0.9" fill="#d6dcef"/>
<rect x="488.6" y="96.6" width="0.9" height="0.9" fill="#d6dcef"/>
<rect x="486.0" y="96.3" width="0.9" height="0.9" fill="#d6dcef"/>
<rect x="453.3" y="85.6" width="0.9" height="0.9" fill="#d6dcef"/>
<rect x="495.4" y="85.6" width="0.9" height="0.9" fill="#d6dcef"/>
<rect x="493.4" y="67.6" width="0.9" height="0.9" fill="#d6dcef"/>
<rect x="473.6" y="75.1" width="0.9" height="0.9" fill="#d6dcef"/>
<rect x="477.0" y="85.8" width="0.9" height="0.9" fill="#d6dcef"/>
<rect x="452.6" y="77.3" width="0.9" height="0.9" fill="#d6dcef"/>
<rect x="464.9" y="99.2" width="0.9" height="0.9" fill="#d6dcef"/>
<rect x="487.2" y="70.1" width="0.9" height="0.9" fill="#d6dcef"/>
<rect x="488.7" y="69.2" width="0.9" height="0.9" fill="#d6dcef"/>
<rect x="480.4" y="70.0" width="0.9" height="0.9" fill="#d6dcef"/>
<rect x="452.1" y="99.6" width="0.9" height="0.9" fill="#d6dcef"/>
<rect x="461.6" y="75.9" width="0.9" height="0.9" fill="#d6dcef"/>
<rect x="497.2" y="92.9" width="0.9" height="0.9" fill="#d6dcef"/>
<rect x="465.3" y="100.7" width="0.9" height="0.9" fill="#d6dcef"/>
<rect x="476.8" y="89.3" width="0.9" height="0.9" fill="#d6dcef"/>
<rect x="461.4" y="100.6" width="0.9" height="0.9" fill="#d6dcef"/>
<rect x="483.8" y="98.1" width="0.9" height="0.9" fill="#d6dcef"/>
<rect x="493.1" y="74.0" width="0.9" height="0.9" fill="#d6dcef"/>
<rect x="468.6" y="73.2" width="0.9" height="0.9" fill="#d6dcef"/>
<rect x="458.7" y="71.2" width="0.9" height="0.9" fill="#d6dcef"/>
<rect x="465.9" y="88.4" width="0.9" height="0.9" fill="#d6dcef"/>
<rect x="452.2" y="93.0" width="0.9" height="0.9" fill="#d6dcef"/>
<rect x="467.5" y="78.2" width="0.9" height="0.9" fill="#d6dcef"/>
<rect x="483.3" y="87.8" width="0.9" height="0.9" fill="#3a66c0"/>
<rect x="476.6" y="95.2" width="0.9" height="0.9" fill="#2d4fae"/>
<rect x="492.4" y="95.3" width="0.9" height="0.9" fill="#8ea6dc"/>
<rect x="489.5" y="96.8" width="0.9" height="0.9" fill="#8ea6dc"/>
<rect x="473.9" y="96.9" width="0.9" height="0.9" fill="#2d4fae"/>
<rect x="467.0" y="104.5" width="0.9" height="0.9" fill="#5a82cc"/>
<rect x="467.6" y="100.2" width="0.9" height="0.9" fill="#2d4fae"/>
<rect x="487.2" y="87.2" width="0.9" height="0.9" fill="#3a66c0"/>
<rect x="477.9" y="95.1" width="0.9" height="0.9" fill="#2d4fae"/>
<rect x="483.0" y="93.7" width="0.9" height="0.9" fill="#3a66c0"/>
<rect x="464.1" y="103.8" width="0.9" height="0.9" fill="#2d4fae"/>
<rect x="469.9" y="93.5" width="0.9" height="0.9" fill="#8ea6dc"/>
<rect x="474.5" y="100.3" width="0.9" height="0.9" fill="#5a82cc"/>
<rect x="472.8" y="97.5" width="0.9" height="0.9" fill="#2d4fae"/>
<rect x="467.3" y="103.7" width="0.9" height="0.9" fill="#5a82cc"/>
<rect x="489.5" y="89.2" width="0.9" height="0.9" fill="#2d4fae"/>
<rect x="486.2" y="84.7" width="0.9" height="0.9" fill="#5a82cc"/>
<rect x="467.8" y="96.1" width="0.9" height="0.9" fill="#8ea6dc"/>
<rect x="476.1" y="95.1" width="0.9" height="0.9" fill="#2d4fae"/>
<rect x="489.9" y="93.9" width="0.9" height="0.9" fill="#5a82cc"/>
<rect x="488.7" y="94.6" width="0.9" height="0.9" fill="#5a82cc"/>
<rect x="484.2" y="84.5" width="0.9" height="0.9" fill="#5a82cc"/>
<rect x="466.2" y="100.8" width="0.9" height="0.9" fill="#3a66c0"/>
<rect x="485.8" y="89.4" width="0.9" height="0.9" fill="#2d4fae"/>
<rect x="491.0" y="95.0" width="0.9" height="0.9" fill="#8ea6dc"/>
<rect x="473.9" y="91.6" width="0.9" height="0.9" fill="#8ea6dc"/>
<rect x="477.4" y="94.8" width="0.9" height="0.9" fill="#2d4fae"/>
<rect x="467.2" y="97.0" width="0.9" height="0.9" fill="#b8c6e8"/>
<rect x="485.6" y="85.8" width="0.9" height="0.9" fill="#3a66c0"/>
<rect x="474.6" y="99.3" width="0.9" height="0.9" fill="#3a66c0"/>
<rect x="484.9" y="93.5" width="0.9" height="0.9" fill="#3a66c0"/>
<rect x="483.5" y="92.1" width="0.9" height="0.9" fill="#2d4fae"/>
<rect x="480.8" y="93.1" width="0.9" height="0.9" fill="#2d4fae"/>
<rect x="482.9" y="91.6" width="0.9" height="0.9" fill="#2d4fae"/>
<rect x="482.7" y="90.4" width="0.9" height="0.9" fill="#2d4fae"/>
<rect x="485.2" y="86.2" width="0.9" height="0.9" fill="#3a66c0"/>
<rect x="462.0" y="102.9" width="0.9" height="0.9" fill="#3a66c0"/>
<rect x="478.6" y="87.0" width="0.9" height="0.9" fill="#b8c6e8"/>
<rect x="480.9" y="94.0" width="0.9" height="0.9" fill="#2d4fae"/>
<rect x="479.2" y="92.7" width="0.9" height="0.9" fill="#2d4fae"/>
<rect x="473.9" y="100.1" width="0.9" height="0.9" fill="#5a82cc"/>
<rect x="486.4" y="100.6" width="0.9" height="0.9" fill="#b8c6e8"/>
<rect x="476.9" y="93.3" width="0.9" height="0.9" fill="#3a66c0"/>
<rect x="487.3" y="94.4" width="0.9" height="0.9" fill="#5a82cc"/>
<rect x="480.2" y="91.5" width="0.9" height="0.9" fill="#2d4fae"/>
<rect x="467.8" y="100.9" width="0.9" height="0.9" fill="#2d4fae"/>
<rect x="479.7" y="89.0" width="0.9" height="0.9" fill="#5a82cc"/>
<rect x="480.9" y="87.8" width="0.9" height="0.9" fill="#5a82cc"/>
<rect x="464.7" y="104.2" width="0.9" height="0.9" fill="#3a66c0"/>
<rect x="482.9" y="94.0" width="0.9" height="0.9" fill="#2d4fae"/>
<rect x="482.9" y="96.8" width="0.9" height="0.9" fill="#5a82cc"/>
<rect x="471.0" y="100.5" width="0.9" height="0.9" fill="#3a66c0"/>
<rect x="473.6" y="98.6" width="0.9" height="0.9" fill="#2d4fae"/>
<rect x="463.3" y="101.9" width="0.9" height="0.9" fill="#5a82cc"/>
<rect x="478.8" y="91.7" width="0.9" height="0.9" fill="#3a66c0"/>
<rect x="489.1" y="93.6" width="0.9" height="0.9" fill="#5a82cc"/>
<rect x="471.4" y="97.7" width="0.9" height="0.9" fill="#2d4fae"/>
<rect x="485.0" y="90.0" width="0.9" height="0.9" fill="#2d4fae"/>
<rect x="482.7" y="96.8" width="0.9" height="0.9" fill="#5a82cc"/>
<rect x="469.3" y="92.4" width="0.9" height="0.9" fill="#b8c6e8"/>
<rect x="482.4" y="85.1" width="0.9" height="0.9" fill="#8ea6dc"/>
<rect x="480.6" y="92.0" width="0.9" height="0.9" fill="#2d4fae"/>
<rect x="475.0" y="86.8" width="0.9" height="0.9" fill="#b8c6e8"/>
<rect x="486.2" y="86.1" width="0.9" height="0.9" fill="#3a66c0"/>
<rect x="487.7" y="91.6" width="0.9" height="0.9" fill="#3a66c0"/>
<rect x="478.1" y="93.1" width="0.9" height="0.9" fill="#2d4fae"/>
<rect x="481.5" y="95.7" width="0.9" height="0.9" fill="#3a66c0"/>
<rect x="476.6" y="96.6" width="0.9" height="0.9" fill="#2d4fae"/>
<rect x="485.6" y="81.6" width="0.9" height="0.9" fill="#b8c6e8"/>
<rect x="485.4" y="87.2" width="0.9" height="0.9" fill="#3a66c0"/>
<rect x="486.2" y="84.7" width="0.9" height="0.9" fill="#5a82cc"/>
<rect x="474.3" y="100.6" width="0.9" height="0.9" fill="#5a82cc"/>
<rect x="471.3" y="97.4" width="0.9" height="0.9" fill="#3a66c0"/>
<rect x="479.3" y="91.1" width="0.9" height="0.9" fill="#3a66c0"/>
<rect x="484.2" y="91.6" width="0.9" height="0.9" fill="#2d4fae"/>
<rect x="479.6" y="93.8" width="0.9" height="0.9" fill="#2d4fae"/>
<rect x="484.9" y="91.4" width="0.9" height="0.9" fill="#2d4fae"/>
<rect x="468.9" y="102.3" width="0.9" height="0.9" fill="#3a66c0"/>
<rect x="477.8" y="89.3" width="0.9" height="0.9" fill="#8ea6dc"/>
<rect x="479.6" y="93.7" width="0.9" height="0.9" fill="#2d4fae"/>
<rect x="483.8" y="90.3" width="0.9" height="0.9" fill="#2d4fae"/>
<rect x="473.7" y="96.9" width="0.9" height="0.9" fill="#2d4fae"/>
<rect x="475.9" y="92.9" width="0.9" height="0.9" fill="#5a82cc"/>
<rect x="481.2" y="96.2" width="0.9" height="0.9" fill="#3a66c0"/>
<rect x="478.4" y="100.7" width="0.9" height="0.9" fill="#b8c6e8"/>
<rect x="481.7" y="99.6" width="0.9" height="0.9" fill="#8ea6dc"/>
<rect x="473.0" y="92.7" width="0.9" height="0.9" fill="#8ea6dc"/>
<rect x="476.9" y="86.5" width="0.9" height="0.9" fill="#b8c6e8"/>
<rect x="473.4" y="93.1" width="0.9" height="0.9" fill="#8ea6dc"/>
<rect x="470.2" y="98.9" width="0.9" height="0.9" fill="#3a66c0"/>
<rect x="464.7" y="103.7" width="0.9" height="0.9" fill="#3a66c0"/>
<rect x="476.6" y="95.2" width="0.9" height="0.9" fill="#2d4fae"/>
<rect x="489.3" y="92.3" width="0.9" height="0.9" fill="#3a66c0"/>
<rect x="477.2" y="91.9" width="0.9" height="0.9" fill="#5a82cc"/>
<rect x="465.6" y="97.9" width="0.9" height="0.9" fill="#8ea6dc"/>
<rect x="466.8" y="102.8" width="0.9" height="0.9" fill="#2d4fae"/>
<rect x="484.0" y="90.8" width="0.9" height="0.9" fill="#2d4fae"/>
<rect x="489.4" y="103.9" width="0.9" height="0.9" fill="#b8c6e8"/>
<rect x="486.3" y="98.4" width="0.9" height="0.9" fill="#b8c6e8"/>
<rect x="466.7" y="96.6" width="0.9" height="0.9" fill="#8ea6dc"/>
<rect x="484.2" y="94.1" width="0.9" height="0.9" fill="#3a66c0"/>
<rect x="489.9" y="92.6" width="0.9" height="0.9" fill="#3a66c0"/>
<rect x="477.4" y="98.4" width="0.9" height="0.9" fill="#3a66c0"/>
<rect x="465.3" y="104.1" width="0.9" height="0.9" fill="#3a66c0"/>
<rect x="466.8" y="104.3" width="0.9" height="0.9" fill="#5a82cc"/>
<rect x="483.7" y="93.2" width="0.9" height="0.9" fill="#2d4fae"/>
<rect x="476.0" y="94.8" width="0.9" height="0.9" fill="#3a66c0"/>
<rect x="478.4" y="97.9" width="0.9" height="0.9" fill="#5a82cc"/>
<rect x="464.1" y="102.5" width="0.9" height="0.9" fill="#2d4fae"/>
<rect x="476.6" y="86.5" width="0.9" height="0.9" fill="#b8c6e8"/>
<rect x="477.5" y="92.8" width="0.9" height="0.9" fill="#3a66c0"/>
<rect x="480.0" y="94.4" width="0.9" height="0.9" fill="#2d4fae"/>
<rect x="479.2" y="96.4" width="0.9" height="0.9" fill="#3a66c0"/>
<rect x="473.6" y="97.0" width="0.9" height="0.9" fill="#2d4fae"/>
<rect x="481.9" y="91.5" width="0.9" height="0.9" fill="#2d4fae"/>
<rect x="482.6" y="94.3" width="0.9" height="0.9" fill="#2d4fae"/>
<rect x="481.7" y="94.3" width="0.9" height="0.9" fill="#2d4fae"/>
<rect x="477.0" y="93.3" width="0.9" height="0.9" fill="#3a66c0"/>
<rect x="463.3" y="103.3" width="0.9" height="0.9" fill="#2d4fae"/>
<rect x="469.1" y="103.4" width="0.9" height="0.9" fill="#8ea6dc"/>
<rect x="474.0" y="103.6" width="0.9" height="0.9" fill="#b8c6e8"/>
<rect x="481.5" y="93.7" width="0.9" height="0.9" fill="#2d4fae"/>
<rect x="480.2" y="92.1" width="0.9" height="0.9" fill="#3a66c0"/>
<rect x="471.8" y="96.1" width="0.9" height="0.9" fill="#3a66c0"/>
<rect x="477.5" y="100.0" width="0.9" height="0.9" fill="#5a82cc"/>
<rect x="480.9" y="94.3" width="0.9" height="0.9" fill="#2d4fae"/>
<rect x="482.8" y="85.6" width="0.9" height="0.9" fill="#8ea6dc"/>
<rect x="478.4" y="94.0" width="0.9" height="0.9" fill="#2d4fae"/>
<rect x="466.9" y="102.9" width="0.9" height="0.9" fill="#3a66c0"/>
<rect x="464.2" y="104.4" width="0.9" height="0.9" fill="#3a66c0"/>
<rect x="485.9" y="95.5" width="0.9" height="0.9" fill="#5a82cc"/>
<rect x="484.3" y="87.0" width="0.9" height="0.9" fill="#3a66c0"/>
<rect x="477.7" y="97.0" width="0.9" height="0.9" fill="#3a66c0"/>
<rect x="468.0" y="99.4" width="0.9" height="0.9" fill="#3a66c0"/>
<rect x="487.8" y="91.7" width="0.9" height="0.9" fill="#3a66c0"/>
<rect x="472.8" y="99.6" width="0.9" height="0.9" fill="#2d4fae"/>
<rect x="470.2" y="98.8" width="0.9" height="0.9" fill="#2d4fae"/>
<rect x="485.2" y="83.4" width="0.9" height="0.9" fill="#8ea6dc"/>
<rect x="480.2" y="90.9" width="0.9" height="0.9" fill="#3a66c0"/>
<rect x="491.1" y="93.4" width="0.9" height="0.9" fill="#5a82cc"/>
<rect x="469.9" y="96.8" width="0.9" height="0.9" fill="#3a66c0"/>
<rect x="468.6" y="100.7" width="0.9" height="0.9" fill="#2d4fae"/>
<rect x="471.8" y="101.3" width="0.9" height="0.9" fill="#5a82cc"/>
<rect x="487.6" y="86.6" width="0.9" height="0.9" fill="#3a66c0"/>
<rect x="477.4" y="94.8" width="0.9" height="0.9" fill="#2d4fae"/>
<rect x="484.0" y="93.5" width="0.9" height="0.9" fill="#2d4fae"/>
<rect x="483.8" y="97.1" width="0.9" height="0.9" fill="#8ea6dc"/>
<rect x="475.9" y="96.5" width="0.9" height="0.9" fill="#2d4fae"/>
<rect x="464.2" y="102.9" width="0.9" height="0.9" fill="#2d4fae"/>
<rect x="461.1" y="98.8" width="0.9" height="0.9" fill="#b8c6e8"/>
<rect x="477.8" y="94.2" width="0.9" height="0.9" fill="#2d4fae"/>
<rect x="465.6" y="103.8" width="0.9" height="0.9" fill="#5a82cc"/>
<rect x="489.4" y="92.0" width="0.9" height="0.9" fill="#3a66c0"/>
<rect x="464.4" y="102.4" width="0.9" height="0.9" fill="#2d4fae"/>
<rect x="470.5" y="97.5" width="0.9" height="0.9" fill="#3a66c0"/>
<rect x="467.2" y="106.6" width="0.9" height="0.9" fill="#b8c6e8"/>
<rect x="467.7" y="98.4" width="0.9" height="0.9" fill="#5a82cc"/>
<rect x="479.9" y="96.9" width="0.9" height="0.9" fill="#3a66c0"/>
<rect x="463.9" y="98.0" width="0.9" height="0.9" fill="#b8c6e8"/>
<rect x="480.2" y="95.1" width="0.9" height="0.9" fill="#2d4fae"/>
<rect x="462.0" y="102.2" width="0.9" height="0.9" fill="#5a82cc"/>
<rect x="478.3" y="91.2" width="0.9" height="0.9" fill="#5a82cc"/>
<rect x="484.0" y="94.5" width="0.9" height="0.9" fill="#3a66c0"/>
<rect x="476.2" y="96.8" width="0.9" height="0.9" fill="#2d4fae"/>
<rect x="467.0" y="101.2" width="0.9" height="0.9" fill="#2d4fae"/>
<rect x="484.1" y="92.7" width="0.9" height="0.9" fill="#2d4fae"/>
<rect x="468.2" y="102.4" width="0.9" height="0.9" fill="#3a66c0"/>
<rect x="465.1" y="100.2" width="0.9" height="0.9" fill="#5a82cc"/>
<rect x="473.0" y="102.2" width="0.9" height="0.9" fill="#8ea6dc"/>
<rect x="465.2" y="103.3" width="0.9" height="0.9" fill="#2d4fae"/>
<rect x="476.0" y="99.2" width="0.9" height="0.9" fill="#3a66c0"/>
<rect x="471.7" y="98.1" width="0.9" height="0.9" fill="#2d4fae"/>
<rect x="483.5" y="86.2" width="0.9" height="0.9" fill="#5a82cc"/>
<rect x="476.9" y="89.0" width="0.9" height="0.9" fill="#8ea6dc"/>
<rect x="483.8" y="98.0" width="0.9" height="0.9" fill="#8ea6dc"/>
<rect x="483.4" y="91.7" width="0.9" height="0.9" fill="#2d4fae"/>
<rect x="475.1" y="97.6" width="0.9" height="0.9" fill="#2d4fae"/>
<rect x="469.6" y="100.3" width="0.9" height="0.9" fill="#2d4fae"/>
<rect x="474.5" y="102.0" width="0.9" height="0.9" fill="#8ea6dc"/>
<rect x="479.5" y="95.3" width="0.9" height="0.9" fill="#2d4fae"/>
<rect x="467.3" y="99.0" width="0.9" height="0.9" fill="#5a82cc"/>
<rect x="486.3" y="87.0" width="0.9" height="0.9" fill="#3a66c0"/>
<rect x="475.4" y="94.8" width="0.9" height="0.9" fill="#3a66c0"/>
<rect x="460.8" y="101.7" width="0.9" height="0.9" fill="#8ea6dc"/>
<rect x="485.5" y="95.5" width="0.9" height="0.9" fill="#5a82cc"/>
<rect x="467.4" y="99.9" width="0.9" height="0.9" fill="#2d4fae"/>
<rect x="487.6" y="89.8" width="0.9" height="0.9" fill="#2d4fae"/>
<rect x="473.6" y="100.2" width="0.9" height="0.9" fill="#5a82cc"/>
<rect x="473.9" y="92.0" width="0.9" height="0.9" fill="#8ea6dc"/>
<rect x="481.4" y="79.4" width="0.9" height="0.9" fill="#b8c6e8"/>
<rect x="483.3" y="98.3" width="0.9" height="0.9" fill="#8ea6dc"/>
<rect x="480.1" y="103.2" width="0.9" height="0.9" fill="#b8c6e8"/>
<rect x="462.5" y="101.9" width="0.9" height="0.9" fill="#5a82cc"/>
<rect x="485.6" y="88.0" width="0.9" height="0.9" fill="#3a66c0"/>
<rect x="473.1" y="99.5" width="0.9" height="0.9" fill="#2d4fae"/>
<rect x="473.3" y="97.4" width="0.9" height="0.9" fill="#2d4fae"/>
<rect x="476.0" y="97.5" width="0.9" height="0.9" fill="#2d4fae"/>
<rect x="486.3" y="93.5" width="0.9" height="0.9" fill="#3a66c0"/>
<rect x="477.9" y="99.7" width="0.9" height="0.9" fill="#5a82cc"/>
<rect x="478.3" y="97.0" width="0.9" height="0.9" fill="#3a66c0"/>
<rect x="464.1" y="101.1" width="0.9" height="0.9" fill="#2d4fae"/>
<rect x="469.0" y="100.5" width="0.9" height="0.9" fill="#2d4fae"/>
<rect x="482.8" y="95.6" width="0.9" height="0.9" fill="#5a82cc"/>
<rect x="484.5" y="90.7" width="0.9" height="0.9" fill="#2d4fae"/>
<rect x="476.6" y="93.5" width="0.9" height="0.9" fill="#3a66c0"/>
<rect x="474.7" y="96.6" width="0.9" height="0.9" fill="#2d4fae"/>
<rect x="472.1" y="96.1" width="0.9" height="0.9" fill="#3a66c0"/>
<rect x="479.3" y="84.8" width="0.9" height="0.9" fill="#b8c6e8"/>
<rect x="487.2" y="95.7" width="0.9" height="0.9" fill="#8ea6dc"/>
<rect x="478.0" y="87.2" width="0.9" height="0.9" fill="#8ea6dc"/>
<rect x="471.5" y="94.2" width="0.9" height="0.9" fill="#5a82cc"/>
<rect x="478.2" y="94.7" width="0.9" height="0.9" fill="#2d4fae"/>
<rect x="465.9" y="100.8" width="0.9" height="0.9" fill="#3a66c0"/>
<rect x="482.6" y="91.0" width="0.9" height="0.9" fill="#2d4fae"/>
<rect x="488.2" y="88.5" width="0.9" height="0.9" fill="#2d4fae"/>
<rect x="464.1" y="102.4" width="0.9" height="0.9" fill="#2d4fae"/>
<rect x="490.1" y="93.8" width="0.9" height="0.9" fill="#5a82cc"/>
<rect x="484.1" y="90.2" width="0.9" height="0.9" fill="#2d4fae"/>
<rect x="467.1" y="95.6" width="0.9" height="0.9" fill="#b8c6e8"/>
<rect x="471.9" y="101.9" width="0.9" height="0.9" fill="#5a82cc"/>
<rect x="476.3" y="99.3" width="0.9" height="0.9" fill="#5a82cc"/>
<rect x="466.0" y="98.0" width="0.9" height="0.9" fill="#5a82cc"/>
<rect x="484.9" y="86.8" width="0.9" height="0.9" fill="#3a66c0"/>
<rect x="465.2" y="100.8" width="0.9" height="0.9" fill="#3a66c0"/>
<rect x="481.0" y="87.3" width="0.9" height="0.9" fill="#8ea6dc"/>
<rect x="470.1" y="99.2" width="0.9" height="0.9" fill="#2d4fae"/>
<rect x="481.1" y="95.0" width="0.9" height="0.9" fill="#3a66c0"/>
<rect x="480.3" y="93.6" width="0.9" height="0.9" fill="#2d4fae"/>
<rect x="462.8" y="100.0" width="0.9" height="0.9" fill="#8ea6dc"/>
<rect x="485.2" y="89.5" width="0.9" height="0.9" fill="#2d4fae"/>
<rect x="472.1" y="90.8" width="0.9" height="0.9" fill="#b8c6e8"/>
<rect x="473.1" y="97.6" width="0.9" height="0.9" fill="#2d4fae"/>
<rect x="488.7" y="89.3" width="0.9" height="0.9" fill="#2d4fae"/>
<rect x="465.1" y="99.4" width="0.9" height="0.9" fill="#5a82cc"/>
<rect x="470.5" y="101.2" width="0.9" height="0.9" fill="#3a66c0"/>
<rect x="478.7" y="91.3" width="0.9" height="0.9" fill="#3a66c0"/>
<rect x="463.4" y="99.8" width="0.9" height="0.9" fill="#b8c6e8"/>
<rect x="487.6" y="85.9" width="0.9" height="0.9" fill="#3a66c0"/>
<rect x="482.0" y="95.2" width="0.9" height="0.9" fill="#3a66c0"/>
<rect x="482.6" y="94.5" width="0.9" height="0.9" fill="#3a66c0"/>
<rect x="466.9" y="102.1" width="0.9" height="0.9" fill="#2d4fae"/>
<rect x="467.7" y="103.2" width="0.9" height="0.9" fill="#3a66c0"/>
<rect x="465.2" y="101.8" width="0.9" height="0.9" fill="#2d4fae"/>
<rect x="484.9" y="92.7" width="0.9" height="0.9" fill="#3a66c0"/>
<rect x="490.0" y="94.6" width="0.9" height="0.9" fill="#8ea6dc"/>
<rect x="489.3" y="90.4" width="0.9" height="0.9" fill="#2d4fae"/>
<rect x="466.0" y="102.9" width="0.9" height="0.9" fill="#2d4fae"/>
<rect x="474.2" y="94.0" width="0.9" height="0.9" fill="#3a66c0"/>
<rect x="465.3" y="100.5" width="0.9" height="0.9" fill="#5a82cc"/>
<rect x="476.5" y="99.5" width="0.9" height="0.9" fill="#5a82cc"/>
<rect x="472.8" y="95.9" width="0.9" height="0.9" fill="#3a66c0"/>
<rect x="488.9" y="90.4" width="0.9" height="0.9" fill="#2d4fae"/>
<rect x="482.7" y="91.1" width="0.9" height="0.9" fill="#2d4fae"/>
<rect x="466.0" y="99.9" width="0.9" height="0.9" fill="#5a82cc"/>
<rect x="484.5" y="94.8" width="0.9" height="0.9" fill="#3a66c0"/>
<rect x="470.0" y="95.0" width="0.9" height="0.9" fill="#8ea6dc"/>
<rect x="482.5" y="88.6" width="0.9" height="0.9" fill="#3a66c0"/>
<rect x="473.5" y="99.3" width="0.9" height="0.9" fill="#3a66c0"/>
<rect x="464.2" y="101.9" width="0.9" height="0.9" fill="#3a66c0"/>
<rect x="483.1" y="95.2" width="0.9" height="0.9" fill="#3a66c0"/>
<g filter="url(#b1)">
<path d="M462 104.8 C470 102 477 97 481 92 C484 88.5 489 88 490.5 91.5 C492 97 490.5 102 488 105 L462 105 Z" fill="url(#gUp)"/>
<ellipse cx="484" cy="100" rx="3" ry="3.5" fill="#7fc75a" opacity="0.85"/>
<path d="M447 105.6 L486 105.3 C488 107 488 111 486 112.8 L447 112.8 Z" fill="url(#gB3)"/>
<path d="M447 105.6 L486 105.3 L486 106.6 L447 106.8 Z" fill="#2f5fb8" opacity="0.6"/>
<path d="M447 111.6 L486 111.6 L486 112.8 L447 112.8 Z" fill="#3060b8" opacity="0.7"/>
</g>
<rect x="38.9" y="57" width="75.9" height="75" stroke="#000" stroke-width="1.6" fill="none"/>
<line x1="60.1" y1="57" x2="60.1" y2="132" stroke="#000" stroke-width="1.6" />
<line x1="38.9" y1="109.9" x2="114.8" y2="109.9" stroke="#000" stroke-width="1.6" />
<text x="40.3" y="64.8" font-size="7.1" text-anchor="start" font-weight="normal" fill="#222" letter-spacing="0.2">0.023</text>
<text x="109.39999999999999" y="64.8" font-size="7.1" text-anchor="end" font-weight="normal" fill="#222" letter-spacing="0.2">0.10</text>
<text x="40.3" y="127.9" font-size="7.1" text-anchor="start" font-weight="normal" fill="#222" letter-spacing="0.2">86.9</text>
<text x="109.39999999999999" y="127.9" font-size="7.1" text-anchor="end" font-weight="normal" fill="#222" letter-spacing="0.2">12.9</text>
<rect x="126.8" y="57" width="75.89999999999999" height="75" stroke="#000" stroke-width="1.6" fill="none"/>
<line x1="148" y1="57" x2="148" y2="132" stroke="#000" stroke-width="1.6" />
<line x1="126.8" y1="106.8" x2="202.7" y2="106.8" stroke="#000" stroke-width="1.6" />
<text x="128.2" y="64.5" font-size="7.1" text-anchor="start" font-weight="normal" fill="#222" letter-spacing="0.2">0.17</text>
<text x="197.29999999999998" y="64.5" font-size="7.1" text-anchor="end" font-weight="normal" fill="#222" letter-spacing="0.2">5.00</text>
<text x="128.2" y="127.7" font-size="7.1" text-anchor="start" font-weight="normal" fill="#222" letter-spacing="0.2">60.8</text>
<text x="197.29999999999998" y="127.7" font-size="7.1" text-anchor="end" font-weight="normal" fill="#222" letter-spacing="0.2">34.0</text>
<path d="M31.6 140.6 V109.2" stroke="#000" stroke-width="1.6" fill="none"/>
<path d="M31.6 140.6 H63" stroke="#000" stroke-width="1.6" fill="none"/>
<path d="M31.6 105.2 L36.4 115.2 L31.6 112.7 L26.8 115.2 Z" fill="#000"/>
<path d="M67 140.6 L57 135.79999999999998 L59.5 140.6 L57 145.4 Z" fill="#000"/>
<rect x="240.9" y="55.8" width="75.29999999999998" height="74.39999999999999" stroke="#000" stroke-width="1.6" fill="none"/>
<line x1="261.7" y1="55.8" x2="261.7" y2="130.2" stroke="#000" stroke-width="1.6" />
<line x1="240.9" y1="104.6" x2="316.2" y2="104.6" stroke="#000" stroke-width="1.6" />
<text x="242.3" y="63.0" font-size="7.1" text-anchor="start" font-weight="normal" fill="#222" letter-spacing="0.2">0.77</text>
<text x="310.8" y="63.0" font-size="7.1" text-anchor="end" font-weight="normal" fill="#222" letter-spacing="0.2">0.24</text>
<text x="242.3" y="125.6" font-size="7.1" text-anchor="start" font-weight="normal" fill="#222" letter-spacing="0.2">98.2</text>
<text x="310.8" y="125.6" font-size="7.1" text-anchor="end" font-weight="normal" fill="#222" letter-spacing="0.2">0.80</text>
<rect x="335.5" y="55.8" width="74.89999999999998" height="74.39999999999999" stroke="#000" stroke-width="1.6" fill="none"/>
<line x1="356.2" y1="55.8" x2="356.2" y2="130.2" stroke="#000" stroke-width="1.6" />
<line x1="335.5" y1="104.6" x2="410.4" y2="104.6" stroke="#000" stroke-width="1.6" />
<text x="336.9" y="63.099999999999994" font-size="7.1" text-anchor="start" font-weight="normal" fill="#222" letter-spacing="0.2">0.17</text>
<text x="405.0" y="63.099999999999994" font-size="7.1" text-anchor="end" font-weight="normal" fill="#222" letter-spacing="0.2">5.00</text>
<text x="336.9" y="125.69999999999999" font-size="7.1" text-anchor="start" font-weight="normal" fill="#222" letter-spacing="0.2">60.8</text>
<text x="405.0" y="125.69999999999999" font-size="7.1" text-anchor="end" font-weight="normal" fill="#222" letter-spacing="0.2">34.0</text>
<rect x="430.5" y="55.8" width="74.5" height="74.39999999999999" stroke="#000" stroke-width="1.6" fill="none"/>
<line x1="451.1" y1="55.8" x2="451.1" y2="130.2" stroke="#000" stroke-width="1.6" />
<line x1="430.5" y1="104.9" x2="505" y2="104.9" stroke="#000" stroke-width="1.6" />
<text x="431.9" y="63.099999999999994" font-size="7.1" text-anchor="start" font-weight="normal" fill="#222" letter-spacing="0.2">0.067</text>
<text x="499.6" y="63.099999999999994" font-size="7.1" text-anchor="end" font-weight="normal" fill="#222" letter-spacing="0.2">29.0</text>
<text x="431.9" y="125.69999999999999" font-size="7.1" text-anchor="start" font-weight="normal" fill="#222" letter-spacing="0.2">2.87</text>
<text x="499.6" y="125.69999999999999" font-size="7.1" text-anchor="end" font-weight="normal" fill="#222" letter-spacing="0.2">68.0</text>
<path d="M232 138.4 V106.4" stroke="#000" stroke-width="1.6" fill="none"/>
<path d="M232 138.4 H264.4" stroke="#000" stroke-width="1.6" fill="none"/>
<path d="M232 102.4 L236.8 112.4 L232 109.9 L227.2 112.4 Z" fill="#000"/>
<path d="M268.4 138.4 L258.4 133.6 L260.9 138.4 L258.4 143.20000000000002 Z" fill="#000"/>
<text x="0" y="0" font-size="8.6" font-weight="normal" fill="#111" text-anchor="middle" transform="translate(24.6,130.2) rotate(-90) scale(0.8,1)">IFN&#947;</text>
<text x="0" y="0" font-size="8.6" font-weight="normal" fill="#111" text-anchor="middle" transform="translate(43.2,153.2) scale(0.8,1)">TNF&#945;</text>
<text x="0" y="0" font-size="8.6" font-weight="normal" fill="#111" text-anchor="middle" transform="translate(224.9,128.0) rotate(-90) scale(0.8,1)">IFN&#947;</text>
<text x="0" y="0" font-size="8.6" font-weight="normal" fill="#111" text-anchor="middle" transform="translate(243.4,150.6) scale(0.8,1)">TNF&#945;</text>
<line x1="55.5" y1="208" x2="78" y2="208" stroke="#111" stroke-width="1.4" />
<circle cx="66.3" cy="204.1" r="1.3" fill="#111"/>
<line x1="56.2" y1="197.5" x2="116.8" y2="197.5" stroke="#111" stroke-width="1.4" />
<circle cx="86.3" cy="193.6" r="1.3" fill="#111"/>
<line x1="74.2" y1="187" x2="135.8" y2="187" stroke="#111" stroke-width="1.4" />
<circle cx="105.8" cy="183.1" r="1.3" fill="#111"/>
<line x1="97" y1="177" x2="158.8" y2="177" stroke="#111" stroke-width="1.4" />
<circle cx="125.8" cy="173.1" r="1.3" fill="#111"/>
<line x1="117.5" y1="208" x2="139.5" y2="208" stroke="#111" stroke-width="1.4" />
<circle cx="129.3" cy="204.1" r="1.3" fill="#111"/>
<polyline points="54.8,286.2 75.4,277.5 95.6,215.5 116.2,286.2 136.4,264 157,236" fill="none" stroke="#8c8c8c" stroke-width="2.1" stroke-linejoin="round"/>
<polyline points="54.8,286.2 75.4,283.5 95.6,281 116.2,286.2 136.4,285 157,282.5" fill="none" stroke="#8a8a8a" stroke-width="1.0" stroke-linejoin="round"/>
<polyline points="54.8,286.2 75.4,278.5 95.6,217.5 116.2,286.2 136.4,266.5 157,234" fill="none" stroke="#8c8c8c" stroke-width="1.5" stroke-linejoin="round"/>
<line x1="44.8" y1="209.9" x2="44.8" y2="286.95" stroke="#000" stroke-width="1.5" />
<line x1="44.05" y1="286.2" x2="166.8" y2="286.2" stroke="#000" stroke-width="1.5" />
<line x1="41.199999999999996" y1="286.2" x2="44.8" y2="286.2" stroke="#000" stroke-width="1.3" />
<text x="37.8" y="289.2" font-size="8.6" text-anchor="end" font-weight="normal" fill="#222" >0</text>
<line x1="41.199999999999996" y1="271.59999999999997" x2="44.8" y2="271.59999999999997" stroke="#000" stroke-width="1.3" />
<text x="37.8" y="274.59999999999997" font-size="8.6" text-anchor="end" font-weight="normal" fill="#222" >20</text>
<line x1="41.199999999999996" y1="257.0" x2="44.8" y2="257.0" stroke="#000" stroke-width="1.3" />
<text x="37.8" y="260.0" font-size="8.6" text-anchor="end" font-weight="normal" fill="#222" >40</text>
<line x1="41.199999999999996" y1="242.39999999999998" x2="44.8" y2="242.39999999999998" stroke="#000" stroke-width="1.3" />
<text x="37.8" y="245.39999999999998" font-size="8.6" text-anchor="end" font-weight="normal" fill="#222" >60</text>
<line x1="41.199999999999996" y1="227.79999999999998" x2="44.8" y2="227.79999999999998" stroke="#000" stroke-width="1.3" />
<text x="37.8" y="230.79999999999998" font-size="8.6" text-anchor="end" font-weight="normal" fill="#222" >80</text>
<line x1="41.199999999999996" y1="213.2" x2="44.8" y2="213.2" stroke="#000" stroke-width="1.3" />
<text x="37.8" y="216.2" font-size="8.6" text-anchor="end" font-weight="normal" fill="#222" >100</text>
<line x1="54.8" y1="286.2" x2="54.8" y2="289.0" stroke="#000" stroke-width="1.2" />
<line x1="75.4" y1="286.2" x2="75.4" y2="289.0" stroke="#000" stroke-width="1.2" />
<line x1="95.6" y1="286.2" x2="95.6" y2="289.0" stroke="#000" stroke-width="1.2" />
<line x1="116.2" y1="286.2" x2="116.2" y2="289.0" stroke="#000" stroke-width="1.2" />
<line x1="136.4" y1="286.2" x2="136.4" y2="289.0" stroke="#000" stroke-width="1.2" />
<line x1="157.0" y1="286.2" x2="157.0" y2="289.0" stroke="#000" stroke-width="1.2" />
<text x="0" y="0" font-size="8.2" font-weight="bold" fill="#2a2a2a" text-anchor="start" transform="translate(19.9,268.3) rotate(-90) scale(0.905,1)">TNF&#945;<tspan dy="-3.6" font-size="5.6">+</tspan><tspan dy="3.6">IFN&#947;</tspan><tspan dy="-3.6" font-size="5.6">&#8211;</tspan></text>
<line x1="47.8" y1="286.0" x2="61.8" y2="286.0" stroke="#a8183e" stroke-width="1.1" />
<line x1="75.4" y1="276.7" x2="75.4" y2="278.8" stroke="#000" stroke-width="1.2" />
<line x1="72.4" y1="276.7" x2="78.4" y2="276.7" stroke="#000" stroke-width="1.2" />
<rect x="68.4" y="278.8" width="14" height="6.699999999999989" stroke="#111" stroke-width="1.3" fill="none"/>
<line x1="68.4" y1="281.5" x2="82.4" y2="281.5" stroke="#c0143c" stroke-width="1.5" />
<line x1="95.6" y1="249.6" x2="95.6" y2="280.9" stroke="#000" stroke-width="1.2" />
<line x1="92.6" y1="280.9" x2="98.6" y2="280.9" stroke="#000" stroke-width="1.2" />
<rect x="88.6" y="215.4" width="14" height="34.19999999999999" stroke="#111" stroke-width="1.3" fill="none"/>
<line x1="88.6" y1="229.4" x2="102.6" y2="229.4" stroke="#c0143c" stroke-width="1.5" />
<line x1="88.6" y1="217.5" x2="102.6" y2="217.5" stroke="#000" stroke-width="1.1" />
<line x1="109.2" y1="286.0" x2="123.2" y2="286.0" stroke="#a8183e" stroke-width="1.1" />
<line x1="136.4" y1="261" x2="136.4" y2="263.3" stroke="#000" stroke-width="1.2" />
<line x1="133.4" y1="261" x2="139.4" y2="261" stroke="#000" stroke-width="1.2" />
<rect x="129.4" y="263.3" width="14" height="20.899999999999977" stroke="#111" stroke-width="1.3" fill="none"/>
<line x1="129.4" y1="271.5" x2="143.4" y2="271.5" stroke="#c0143c" stroke-width="1.5" />
<line x1="129.4" y1="266" x2="143.4" y2="266" stroke="#000" stroke-width="1.0" />
<line x1="129.4" y1="269.6" x2="143.4" y2="269.6" stroke="#000" stroke-width="1.0" />
<line x1="157.0" y1="280.9" x2="157.0" y2="284" stroke="#000" stroke-width="1.2" />
<line x1="154.0" y1="284" x2="160.0" y2="284" stroke="#000" stroke-width="1.2" />
<rect x="150.0" y="227.2" width="14" height="53.69999999999999" stroke="#111" stroke-width="1.3" fill="none"/>
<line x1="150.0" y1="247.6" x2="164.0" y2="247.6" stroke="#c0143c" stroke-width="1.5" />
<line x1="150.0" y1="231.7" x2="164.0" y2="231.7" stroke="#000" stroke-width="1.1" />
<text x="0" y="0" font-size="8.3" letter-spacing="0.12" fill="#222" text-anchor="end" transform="translate(58.8,292.7) rotate(-90)">without K562</text>
<text x="0" y="0" font-size="8.3" letter-spacing="0.12" fill="#222" text-anchor="end" transform="translate(79.4,292.7) rotate(-90)">with K562</text>
<text x="0" y="0" font-size="8.3" letter-spacing="0.12" fill="#222" text-anchor="end" transform="translate(99.6,292.7) rotate(-90)">PMAi</text>
<text x="0" y="0" font-size="8.3" letter-spacing="0.12" fill="#222" text-anchor="end" transform="translate(120.2,292.7) rotate(-90)">without K562</text>
<text x="0" y="0" font-size="8.3" letter-spacing="0.12" fill="#222" text-anchor="end" transform="translate(140.4,292.7) rotate(-90)">with K562</text>
<text x="0" y="0" font-size="8.3" letter-spacing="0.12" fill="#222" text-anchor="end" transform="translate(161.0,292.7) rotate(-90)">PMAi</text>
<line x1="52.8" y1="351.1" x2="97.6" y2="351.1" stroke="#222" stroke-width="1.6" />
<line x1="114.4" y1="351.1" x2="158.8" y2="351.1" stroke="#222" stroke-width="1.6" />
<text x="75.19999999999999" y="361.5" font-size="8.3" text-anchor="middle" font-weight="normal" fill="#222" letter-spacing="0.15">2 + 7</text>
<text x="136.60000000000002" y="361.5" font-size="8.3" text-anchor="middle" font-weight="normal" fill="#222" letter-spacing="0.15">12 + 15</text>
<line x1="227" y1="207.5" x2="249.3" y2="207.5" stroke="#111" stroke-width="1.4" />
<text x="238" y="205.5" font-size="7.8" text-anchor="middle" font-weight="normal" fill="#222" >ns</text>
<line x1="227" y1="197" x2="288.8" y2="197" stroke="#111" stroke-width="1.4" />
<text x="262.9" y="195.0" font-size="7.8" text-anchor="middle" font-weight="normal" fill="#222" >ns</text>
<line x1="246.3" y1="186.5" x2="307.5" y2="186.5" stroke="#111" stroke-width="1.4" />
<circle cx="278" cy="182.6" r="1.3" fill="#111"/>
<line x1="268.8" y1="176.5" x2="330.5" y2="176.5" stroke="#111" stroke-width="1.4" />
<circle cx="297.5" cy="172.6" r="1.3" fill="#111"/>
<line x1="289.5" y1="207.5" x2="311.3" y2="207.5" stroke="#111" stroke-width="1.4" />
<circle cx="300.5" cy="203.6" r="1.3" fill="#111"/>
<polyline points="292.2,286.1 313.8,280.5 335,230.7" fill="none" stroke="#777" stroke-width="0.9" stroke-linejoin="round"/>
<polyline points="292.2,286.1 313.8,280.5 335,252" fill="none" stroke="#777" stroke-width="0.9" stroke-linejoin="round"/>
<polyline points="292.2,286.1 313.8,280.5 335,259" fill="none" stroke="#777" stroke-width="0.9" stroke-linejoin="round"/>
<polyline points="292.2,286.1 313.8,280.5 335,266" fill="none" stroke="#777" stroke-width="0.9" stroke-linejoin="round"/>
<polyline points="292.2,286.1 313.8,280.5 335,280.5" fill="none" stroke="#777" stroke-width="0.9" stroke-linejoin="round"/>
<line x1="217.7" y1="206.1" x2="217.7" y2="286.85" stroke="#000" stroke-width="1.5" />
<line x1="216.95" y1="286.1" x2="344.8" y2="286.1" stroke="#000" stroke-width="1.5" />
<line x1="214.1" y1="286.1" x2="217.7" y2="286.1" stroke="#000" stroke-width="1.3" />
<text x="210.7" y="289.1" font-size="8.6" text-anchor="end" font-weight="normal" fill="#222" >0</text>
<line x1="214.1" y1="267.05" x2="217.7" y2="267.05" stroke="#000" stroke-width="1.3" />
<text x="210.7" y="270.05" font-size="8.6" text-anchor="end" font-weight="normal" fill="#222" >10</text>
<line x1="214.1" y1="248.00000000000003" x2="217.7" y2="248.00000000000003" stroke="#000" stroke-width="1.3" />
<text x="210.7" y="251.00000000000003" font-size="8.6" text-anchor="end" font-weight="normal" fill="#222" >20</text>
<line x1="214.1" y1="228.95000000000002" x2="217.7" y2="228.95000000000002" stroke="#000" stroke-width="1.3" />
<text x="210.7" y="231.95000000000002" font-size="8.6" text-anchor="end" font-weight="normal" fill="#222" >30</text>
<line x1="214.1" y1="209.90000000000003" x2="217.7" y2="209.90000000000003" stroke="#000" stroke-width="1.3" />
<text x="210.7" y="212.90000000000003" font-size="8.6" text-anchor="end" font-weight="normal" fill="#222" >40</text>
<line x1="228.4" y1="286.1" x2="228.4" y2="288.90000000000003" stroke="#000" stroke-width="1.2" />
<line x1="249.7" y1="286.1" x2="249.7" y2="288.90000000000003" stroke="#000" stroke-width="1.2" />
<line x1="270.9" y1="286.1" x2="270.9" y2="288.90000000000003" stroke="#000" stroke-width="1.2" />
<line x1="292.2" y1="286.1" x2="292.2" y2="288.90000000000003" stroke="#000" stroke-width="1.2" />
<line x1="313.5" y1="286.1" x2="313.5" y2="288.90000000000003" stroke="#000" stroke-width="1.2" />
<line x1="334.7" y1="286.1" x2="334.7" y2="288.90000000000003" stroke="#000" stroke-width="1.2" />
<text x="0" y="0" font-size="8.2" font-weight="bold" fill="#2a2a2a" text-anchor="start" transform="translate(195.1,269.0) rotate(-90) scale(0.935,1)">TNF&#945;<tspan dy="-3.6" font-size="5.6">+</tspan><tspan dy="3.6">IFN&#947;</tspan><tspan dy="-3.6" font-size="5.6">+</tspan></text>
<line x1="221.4" y1="285.90000000000003" x2="235.4" y2="285.90000000000003" stroke="#a8183e" stroke-width="1.1" />
<line x1="242.7" y1="285.90000000000003" x2="256.7" y2="285.90000000000003" stroke="#a8183e" stroke-width="1.1" />
<line x1="263.9" y1="285.90000000000003" x2="277.9" y2="285.90000000000003" stroke="#a8183e" stroke-width="1.1" />
<line x1="285.2" y1="285.90000000000003" x2="299.2" y2="285.90000000000003" stroke="#a8183e" stroke-width="1.1" />
<rect x="306.5" y="278.7" width="14" height="4.800000000000011" stroke="#111" stroke-width="1.3" fill="none"/>
<line x1="306.5" y1="280.2" x2="320.5" y2="280.2" stroke="#c0143c" stroke-width="1.5" />
<line x1="306.5" y1="281.9" x2="320.5" y2="281.9" stroke="#c0143c" stroke-width="1.1" />
<line x1="334.7" y1="230.7" x2="334.7" y2="246.7" stroke="#000" stroke-width="1.2" />
<line x1="331.7" y1="230.7" x2="337.7" y2="230.7" stroke="#000" stroke-width="1.2" />
<line x1="334.7" y1="281.6" x2="334.7" y2="284.4" stroke="#000" stroke-width="1.2" />
<line x1="331.7" y1="284.4" x2="337.7" y2="284.4" stroke="#000" stroke-width="1.2" />
<rect x="327.7" y="246.7" width="14" height="34.900000000000034" stroke="#111" stroke-width="1.3" fill="none"/>
<line x1="327.7" y1="261.8" x2="341.7" y2="261.8" stroke="#c0143c" stroke-width="1.5" />
<text x="0" y="0" font-size="8.3" letter-spacing="0.06" fill="#222" text-anchor="end" transform="translate(232.4,292.7) rotate(-90)">without K562</text>
<text x="0" y="0" font-size="8.3" letter-spacing="0.06" fill="#222" text-anchor="end" transform="translate(253.7,292.7) rotate(-90)">with K562</text>
<text x="0" y="0" font-size="8.3" letter-spacing="0.06" fill="#222" text-anchor="end" transform="translate(274.9,292.7) rotate(-90)">PMAi</text>
<text x="0" y="0" font-size="8.3" letter-spacing="0.06" fill="#222" text-anchor="end" transform="translate(296.2,292.7) rotate(-90)">without K562</text>
<text x="0" y="0" font-size="8.3" letter-spacing="0.06" fill="#222" text-anchor="end" transform="translate(317.5,292.7) rotate(-90)">with K562</text>
<text x="0" y="0" font-size="8.3" letter-spacing="0.06" fill="#222" text-anchor="end" transform="translate(338.7,292.7) rotate(-90)">PMAi</text>
<line x1="227.9" y1="349.95" x2="271.7" y2="349.95" stroke="#222" stroke-width="1.6" />
<line x1="291.6" y1="349.95" x2="335.9" y2="349.95" stroke="#222" stroke-width="1.6" />
<text x="249.8" y="360.75" font-size="8.3" text-anchor="middle" font-weight="normal" fill="#222" letter-spacing="0.15">2 + 7</text>
<text x="313.75" y="360.75" font-size="8.3" text-anchor="middle" font-weight="normal" fill="#222" letter-spacing="0.15">12 + 15</text>
<line x1="400.5" y1="205.5" x2="422.5" y2="205.5" stroke="#111" stroke-width="1.4" />
<text x="411.2" y="203.5" font-size="7.8" text-anchor="middle" font-weight="normal" fill="#222" >ns</text>
<line x1="406.3" y1="194.5" x2="467" y2="194.5" stroke="#111" stroke-width="1.4" />
<text x="438.4" y="192.5" font-size="7.8" text-anchor="middle" font-weight="normal" fill="#222" >0.0995</text>
<line x1="419.5" y1="184.3" x2="480.8" y2="184.3" stroke="#111" stroke-width="1.4" />
<text x="451.8" y="182.3" font-size="7.8" text-anchor="middle" font-weight="normal" fill="#222" >ns</text>
<line x1="442.5" y1="173.8" x2="504.3" y2="173.8" stroke="#111" stroke-width="1.4" />
<text x="474.3" y="171.8" font-size="7.8" text-anchor="middle" font-weight="normal" fill="#222" >ns</text>
<line x1="463" y1="205.5" x2="485" y2="205.5" stroke="#111" stroke-width="1.4" />
<text x="473.5" y="203.5" font-size="7.8" text-anchor="middle" font-weight="normal" fill="#222" >ns</text>
<polyline points="442.5,286.2 461.4,283 482.3,269.3 502.7,216.7" fill="none" stroke="#777" stroke-width="0.9" stroke-linejoin="round"/>
<polyline points="442.5,286.2 461.4,281 482.3,280 502.7,250.5" fill="none" stroke="#777" stroke-width="0.9" stroke-linejoin="round"/>
<polyline points="442.5,286.2 461.4,277.5 482.3,283 502.7,285.5" fill="none" stroke="#888" stroke-width="0.8" stroke-linejoin="round"/>
<polyline points="442.5,286.2 461.4,284.5 482.3,281.5 502.7,284.5" fill="none" stroke="#888" stroke-width="0.8" stroke-linejoin="round"/>
<line x1="390.4" y1="209.2" x2="390.4" y2="286.95" stroke="#000" stroke-width="1.5" />
<line x1="389.65" y1="286.2" x2="512" y2="286.2" stroke="#000" stroke-width="1.5" />
<line x1="386.79999999999995" y1="286.2" x2="390.4" y2="286.2" stroke="#000" stroke-width="1.3" />
<text x="383.4" y="289.2" font-size="8.6" text-anchor="end" font-weight="normal" fill="#222" >0</text>
<line x1="386.79999999999995" y1="271.59999999999997" x2="390.4" y2="271.59999999999997" stroke="#000" stroke-width="1.3" />
<text x="383.4" y="274.59999999999997" font-size="8.6" text-anchor="end" font-weight="normal" fill="#222" >1</text>
<line x1="386.79999999999995" y1="257.0" x2="390.4" y2="257.0" stroke="#000" stroke-width="1.3" />
<text x="383.4" y="260.0" font-size="8.6" text-anchor="end" font-weight="normal" fill="#222" >2</text>
<line x1="386.79999999999995" y1="242.39999999999998" x2="390.4" y2="242.39999999999998" stroke="#000" stroke-width="1.3" />
<text x="383.4" y="245.39999999999998" font-size="8.6" text-anchor="end" font-weight="normal" fill="#222" >3</text>
<line x1="386.79999999999995" y1="227.79999999999998" x2="390.4" y2="227.79999999999998" stroke="#000" stroke-width="1.3" />
<text x="383.4" y="230.79999999999998" font-size="8.6" text-anchor="end" font-weight="normal" fill="#222" >4</text>
<line x1="386.79999999999995" y1="213.2" x2="390.4" y2="213.2" stroke="#000" stroke-width="1.3" />
<text x="383.4" y="216.2" font-size="8.6" text-anchor="end" font-weight="normal" fill="#222" >5</text>
<line x1="400.3" y1="286.2" x2="400.3" y2="289.0" stroke="#000" stroke-width="1.2" />
<line x1="420.8" y1="286.2" x2="420.8" y2="289.0" stroke="#000" stroke-width="1.2" />
<line x1="441.2" y1="286.2" x2="441.2" y2="289.0" stroke="#000" stroke-width="1.2" />
<line x1="461.7" y1="286.2" x2="461.7" y2="289.0" stroke="#000" stroke-width="1.2" />
<line x1="482.1" y1="286.2" x2="482.1" y2="289.0" stroke="#000" stroke-width="1.2" />
<line x1="502.6" y1="286.2" x2="502.6" y2="289.0" stroke="#000" stroke-width="1.2" />
<text x="0" y="0" font-size="8.2" font-weight="bold" fill="#2a2a2a" text-anchor="start" transform="translate(372.9,267.4) rotate(-90) scale(0.94,1)">TNF&#945;<tspan dy="-3.6" font-size="5.6">&#8211;</tspan><tspan dy="3.6">IFN&#947;</tspan><tspan dy="-3.6" font-size="5.6">+</tspan></text>
<line x1="393.3" y1="286.0" x2="407.3" y2="286.0" stroke="#a8183e" stroke-width="1.1" />
<line x1="413.8" y1="286.0" x2="427.8" y2="286.0" stroke="#a8183e" stroke-width="1.1" />
<line x1="434.2" y1="286.0" x2="448.2" y2="286.0" stroke="#a8183e" stroke-width="1.1" />
<line x1="461.4" y1="274.5" x2="461.4" y2="277.8" stroke="#000" stroke-width="1.2" />
<line x1="458.4" y1="274.5" x2="464.4" y2="274.5" stroke="#000" stroke-width="1.2" />
<rect x="454.4" y="277.8" width="14" height="7.5" stroke="#111" stroke-width="1.3" fill="none"/>
<line x1="454.4" y1="280.6" x2="468.4" y2="280.6" stroke="#c0143c" stroke-width="1.5" />
<line x1="454.4" y1="283.2" x2="468.4" y2="283.2" stroke="#c0143c" stroke-width="1.1" />
<line x1="482.3" y1="269.3" x2="482.3" y2="278.3" stroke="#000" stroke-width="1.2" />
<line x1="479.3" y1="269.3" x2="485.3" y2="269.3" stroke="#000" stroke-width="1.2" />
<rect x="475.3" y="278.3" width="14" height="6.300000000000011" stroke="#111" stroke-width="1.3" fill="none"/>
<line x1="475.3" y1="281.5" x2="489.3" y2="281.5" stroke="#c0143c" stroke-width="1.5" />
<line x1="502.7" y1="216.7" x2="502.7" y2="242.6" stroke="#000" stroke-width="1.2" />
<line x1="499.7" y1="216.7" x2="505.7" y2="216.7" stroke="#000" stroke-width="1.2" />
<rect x="495.7" y="242.6" width="14" height="43.599999999999994" stroke="#111" stroke-width="1.3" fill="none"/>
<line x1="495.7" y1="268.6" x2="509.7" y2="268.6" stroke="#c0143c" stroke-width="1.5" />
<text x="0" y="0" font-size="8.3" letter-spacing="0.0" fill="#222" text-anchor="end" transform="translate(404.3,292.7) rotate(-90)">without K562</text>
<text x="0" y="0" font-size="8.3" letter-spacing="0.0" fill="#222" text-anchor="end" transform="translate(424.8,292.7) rotate(-90)">with K562</text>
<text x="0" y="0" font-size="8.3" letter-spacing="0.0" fill="#222" text-anchor="end" transform="translate(445.2,292.7) rotate(-90)">PMAi</text>
<text x="0" y="0" font-size="8.3" letter-spacing="0.0" fill="#222" text-anchor="end" transform="translate(465.7,292.7) rotate(-90)">without K562</text>
<text x="0" y="0" font-size="8.3" letter-spacing="0.0" fill="#222" text-anchor="end" transform="translate(486.1,292.7) rotate(-90)">with K562</text>
<text x="0" y="0" font-size="8.3" letter-spacing="0.0" fill="#222" text-anchor="end" transform="translate(506.6,292.7) rotate(-90)">PMAi</text>
<line x1="399.1" y1="349.95" x2="443.4" y2="349.95" stroke="#222" stroke-width="1.6" />
<line x1="460.2" y1="349.95" x2="504.2" y2="349.95" stroke="#222" stroke-width="1.6" />
<text x="421.25" y="360.75" font-size="8.3" text-anchor="middle" font-weight="normal" fill="#222" letter-spacing="0.15">2 + 7</text>
<text x="482.2" y="360.75" font-size="8.3" text-anchor="middle" font-weight="normal" fill="#222" letter-spacing="0.15">12 + 15</text>
<line x1="72.4" y1="276.7" x2="78.4" y2="276.7" stroke="#3d7a3d" stroke-width="1.2" />
<path d="M73.80000000000001 276.02000000000004 L77.0 276.02000000000004 L75.4 278.74 Z" fill="#7cbf6a" opacity="0.85"/>
<path d="M74.10000000000001 284.15999999999997 L76.7 284.15999999999997 L75.4 286.37 Z" fill="#7cbf6a" opacity="0.85"/>
<path d="M155.4 225.52 L158.6 225.52 L157.0 228.24 Z" fill="#8f8fd6" opacity="0.85"/>
<path d="M155.6 282.08 L158.4 282.08 L157.0 284.46 Z" fill="#8f8fd6" opacity="0.85"/>
<circle cx="157.8" cy="236" r="1.5" fill="#9a9a9a"/>
<path d="M135.1 260.76 L137.70000000000002 260.76 L136.4 262.97 Z" fill="#5a9a7a" opacity="0.85"/>
<circle cx="335" cy="252" r="1.2" fill="#a0a0d0"/>
<circle cx="335" cy="259" r="1.2" fill="#a0a0d0"/>
<circle cx="335" cy="266" r="1.2" fill="#a0a0d0"/>
<path d="M333.6 282.18 L336.4 282.18 L335 284.56 Z" fill="#8f8fd6" opacity="0.85"/>
<path d="M459.9 273.6 L462.9 273.6 L461.4 276.15000000000003 Z" fill="#e0a030" opacity="0.85"/>
<path d="M460.09999999999997 280.46 L462.7 280.46 L461.4 282.67 Z" fill="#e08030" opacity="0.85"/>
<line x1="461.4" y1="274.5" x2="461.4" y2="285.5" stroke="#e0a030" stroke-width="0.8" />
<circle cx="502.7" cy="250.5" r="1.2" fill="#a0a0d0"/>
<path d="M501.3 283.38 L504.09999999999997 283.38 L502.7 285.76 Z" fill="#8f8fd6" opacity="0.85"/>
</svg>
</body></html>
